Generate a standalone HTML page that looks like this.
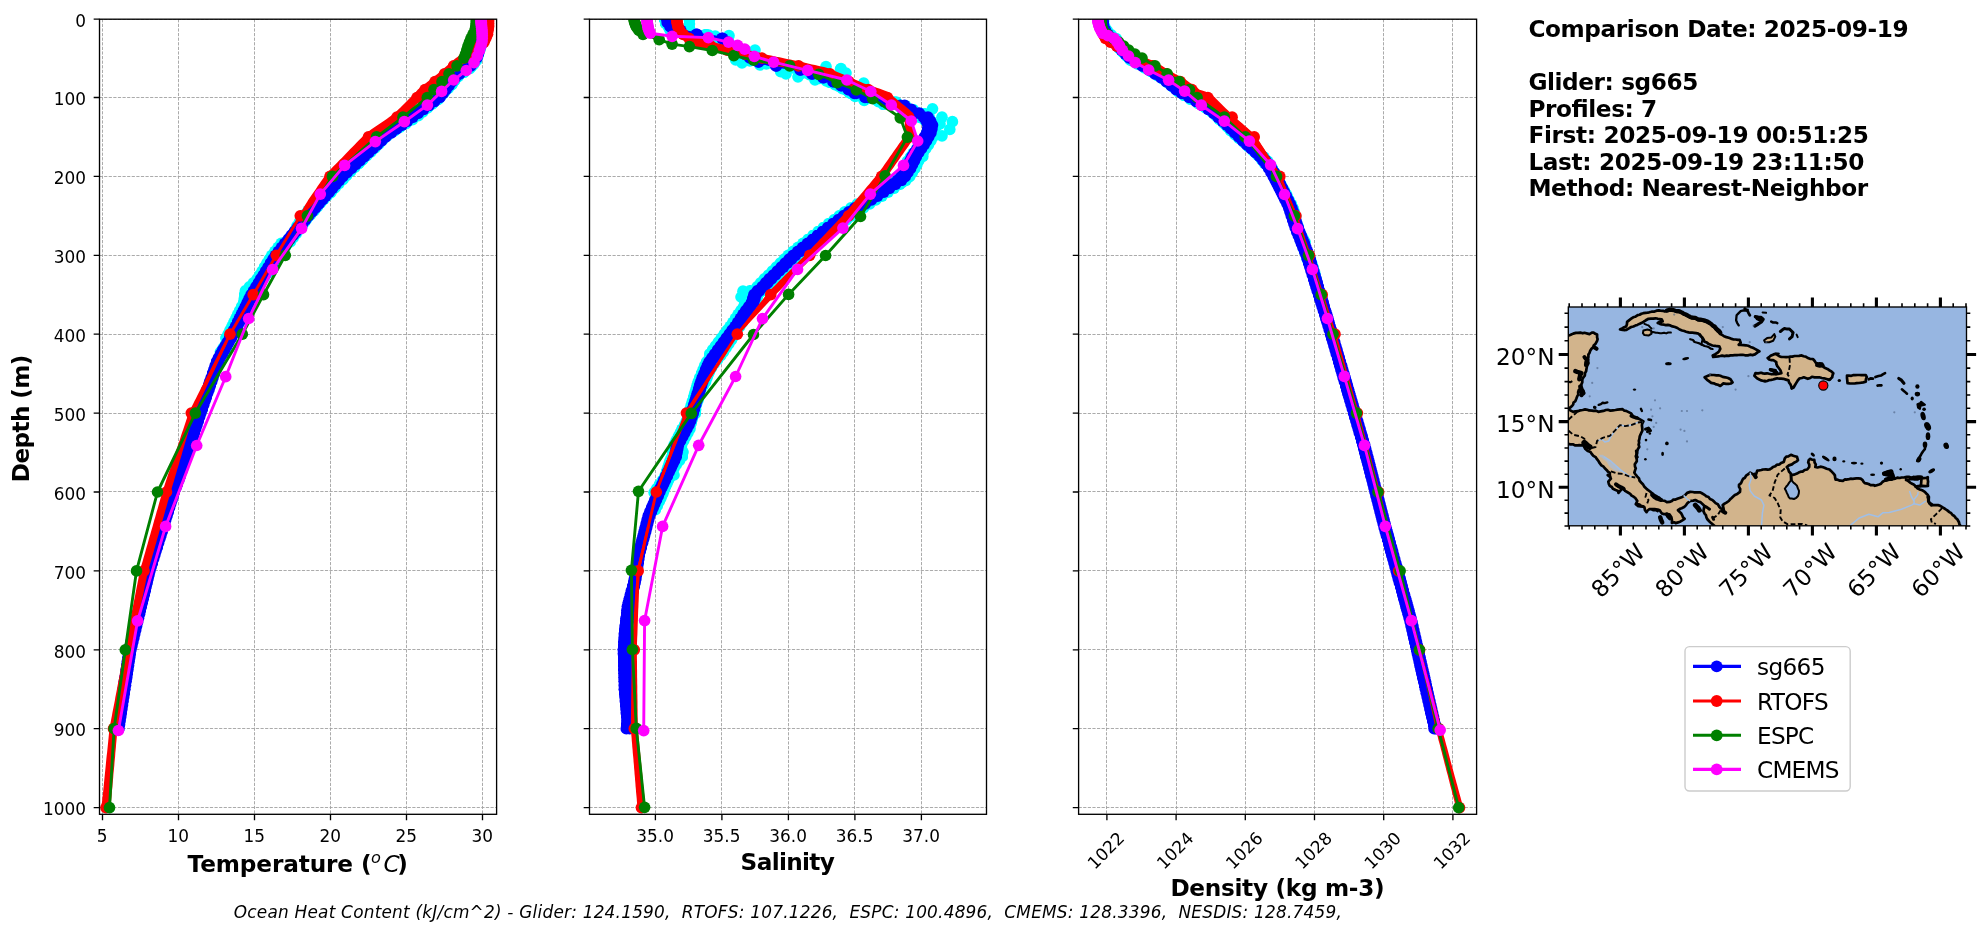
<!DOCTYPE html>
<html lang="en"><head><meta charset="utf-8"><title>Glider / model profile comparison - sg665</title>
<style>html,body{margin:0;padding:0;background:#fff}body{width:1982px;height:934px;overflow:hidden}svg{display:block;will-change:transform}svg text{font-family:"DejaVu Sans","Liberation Sans",sans-serif;fill:#000}</style></head><body>
<svg width="1982" height="934" viewBox="0 0 1982 934">
<rect width="1982" height="934" fill="#fff"/>
<defs>
<clipPath id="c0"><rect x="99.5" y="19.2" width="397.1" height="795.1"/></clipPath>
<clipPath id="c1"><rect x="589.5" y="19.2" width="397" height="795.1"/></clipPath>
<clipPath id="c2"><rect x="1078.6" y="19.2" width="398" height="795.1"/></clipPath>
<marker id="mB" markerWidth="12" markerHeight="12" refX="6" refY="6" markerUnits="userSpaceOnUse"><circle cx="6" cy="6" r="5.83" fill="#0000ff"/></marker>
<marker id="mC" markerWidth="12" markerHeight="12" refX="6" refY="6" markerUnits="userSpaceOnUse"><circle cx="6" cy="6" r="5.83" fill="#00ffff"/></marker>
</defs>
<g id="ax0">
<path d="M102.5 19.2V814.3M178.5 19.2V814.3M254.5 19.2V814.3M330.5 19.2V814.3M406.5 19.2V814.3M482.5 19.2V814.3M99.5 19.5H496.6M99.5 97.5H496.6M99.5 176.5H496.6M99.5 255.5H496.6M99.5 334.5H496.6M99.5 413.5H496.6M99.5 491.5H496.6M99.5 570.5H496.6M99.5 649.5H496.6M99.5 728.5H496.6M99.5 807.5H496.6" stroke="#a2a2a2" stroke-width="0.9" stroke-dasharray="3.2 1.4" fill="none"/>
<g clip-path="url(#c0)">
<polyline points="484.3,19 484.2,22.9 484,26.9 483.9,30.8 483.8,34.8 483,38.7 482.3,42.7 480.4,46.6 478.5,50.5 477.7,54.5 476.9,58.4 474.6,62.4 471.6,66.3 465.7,70.3 459.4,74.2 454.6,78.2 451.4,82.1 448.6,86 445.7,90 442.9,93.9 439.1,97.9 434.2,101.8 429.2,105.8 424.2,109.7 419.3,113.7 413.1,117.6 406.2,121.6 399.3,125.5 392.4,129.4 386.5,133.4 381.2,137.3 377,141.3 372.7,145.2 369.8,149.2 366.9,153.1 364,157.1 361.1,161 356.3,164.9 351.6,168.9 346.9,172.8 342.3,176.8 339.4,180.7 336.6,184.7 333.7,188.6 330.8,192.6 326.3,196.5 321.5,200.5 316.8,204.4 312,208.3 309.1,212.3 306.3,216.2 303.8,220.2 301.3,224.1 298.5,228.1 295.8,232 293.1,236 290.3,239.9 286.4,243.8 282.5,247.8 278.6,251.7 275,255.7 273.8,259.6 272.5,263.6 271.3,267.5 270.1,271.5" fill="none" stroke="#00ffff" stroke-width="2.9" stroke-linejoin="round" marker-start="url(#mC)" marker-mid="url(#mC)" marker-end="url(#mC)"/><polyline points="478.2,20.6 479.4,24.5 480.6,28.5 481.8,32.4 483,36.4 482.8,40.3 481.8,44.3 480.4,48.2 479,52.1 476.6,56.1 473.3,60 469.2,64 463.7,67.9 458.6,71.9 453.4,75.8 450.5,79.8 447.9,83.7 445.6,87.7 443.3,91.6 441,95.5 438.2,99.5 432.5,103.4 426.8,107.4 421.1,111.3 415.4,115.3 410,119.2 404.8,123.2 399.6,127.1 394.4,131 388.1,135 382.5,138.9 377.5,142.9 372.5,146.8 368.9,150.8 365.3,154.7 361.7,158.7 357.6,162.6 352.6,166.6 347.7,170.5 342.8,174.4 338.7,178.4 334.7,182.3 330.8,186.3 326.8,190.2 322.8,194.2 319.9,198.1 317.3,202.1 314.8,206 312.3,209.9 309.7,213.9 307.3,217.8 304.8,221.8 302.2,225.7 299.2,229.7 296.2,233.6 293.2,237.6 289.7,241.5 285.8,245.5 281.9,249.4 278,253.3 274.4,257.3 272,261.2 269.6,265.2 267.2,269.1 264.8,273.1 261.4,277 258,281 254.7,284.9 251.3,288.8 249.1,292.8 247.2,296.7 245.7,300.7 244.2,304.6 243.3,308.6 242.3,312.5 241.3,316.5 240.4,320.4 238.1,324.4 235.7,328.3 233.4,332.2 231.1,336.2 228.4,340.1 225.7,344.1 223.1,348 220.4,352" fill="none" stroke="#00ffff" stroke-width="2.9" stroke-linejoin="round" marker-start="url(#mC)" marker-mid="url(#mC)" marker-end="url(#mC)"/><polyline points="482.4,21.6 482.2,25.5 482,29.5 481.9,33.4 481.7,37.3 481.4,41.3 480.1,45.2 478.6,49.2 477.1,53.1 476.2,57.1 474,61 471.4,65 466.5,68.9 461.4,72.9 457,76.8 454.5,80.7 451.8,84.7 447,88.6 442.3,92.6 436.9,96.5 429.6,100.5 425.6,104.4 421.5,108.4 417.5,112.3 413.5,116.2 408.4,120.2 403,124.1 397.6,128.1 392.2,132 387.1,136 382.8,139.9 379,143.9 375.1,147.8 371,151.8 366.8,155.7 362.6,159.6 358.4,163.6 354.4,167.5 350.4,171.5 346.5,175.4 343,179.4 339.1,183.3 335.2,187.3 331.3,191.2 327.4,195.1 324,199.1 320.6,203 317.3,207 313.9,210.9 310.3,214.9 306.8,218.8 303.5,222.8 300.2,226.7 296.5,230.7 292.8,234.6 289.1,238.5 285,242.5 282.7,246.4 280.4,250.4 278.2,254.3 276.7,258.3 274.1,262.2 271.5,266.2 268.9,270.1 266.3,274 263.6,278 260.5,281.9 257.5,285.9 254.4,289.8 252.4,293.8 250.6,297.7 248.9,301.7 247.2,305.6 245,309.6 242.8,313.5 240.6,317.4 238.6,321.4" fill="none" stroke="#00ffff" stroke-width="2.9" stroke-linejoin="round" marker-start="url(#mC)" marker-mid="url(#mC)" marker-end="url(#mC)"/><polyline points="480.7,18.9 480.3,22.9 479.9,26.8 479.5,30.7 479.1,34.7 478.6,38.6 478.2,42.6 476.6,46.5 474.9,50.5 473.7,54.4 472.3,58.4 469.6,62.3 467,66.2 462.5,70.2 457.9,74.1 453.7,78.1 451.3,82 447.8,86 444.4,89.9 440.9,93.9 437.5,97.8 432.5,101.8 426.3,105.7 420.2,109.6 414.1,113.6 408.5,117.5 403.7,121.5 399,125.4 394.3,129.4 388.5,133.3 383.1,137.3 378.5,141.2 373.9,145.1 369.5,149.1 365.1,153 360.7,157 356.7,160.9 353.2,164.9 349.6,168.8 346,172.8 342.5,176.7 337.6,180.7 333.2,184.6 328.7,188.5 324.2,192.5 320.9,196.4 318.4,200.4 315.9,204.3 313.4,208.3 310.4,212.2 307.5,216.2 304.2,220.1 301.1,224" fill="none" stroke="#00ffff" stroke-width="2.9" stroke-linejoin="round" marker-start="url(#mC)" marker-mid="url(#mC)" marker-end="url(#mC)"/><polyline points="480.5,21.1 480,25 479.6,29 479.2,32.9 478.7,36.9 479.4,40.8 480,44.7 479.4,48.7 478.8,52.6 477.2,56.6 475.6,60.5 472.2,64.5 468.6,68.4 463,72.4 457.4,76.3 453.3,80.3 450.4,84.2 446.8,88.1 443.3,92.1 439.7,96 435.2,100 430.2,103.9 425.1,107.9 420,111.8 414.9,115.8 408.5,119.7 402.2,123.6 395.9,127.6 389.6,131.5 384.6,135.5 380.1,139.4 376,143.4 372,147.3 368.6,151.3 365.1,155.2 361.7,159.2 358.8,163.1 354.8,167 350.8,171 346.7,174.9 342.9,178.9 338.5,182.8 334,186.8 329.6,190.7 325.1,194.7 322.4,198.6 319.6,202.5 316.9,206.5 314.1,210.4 309.7,214.4 305.5,218.3 301.4,222.3 297.4,226.2 295.2,230.2 292.9,234.1 290.6,238.1 288.8,242 285.7,245.9 282.6,249.9 279.5,253.8 276.6,257.8 273.5,261.7 270.4,265.7 267.3,269.6 264.2,273.6 261.3,277.5 258.8,281.4 256.2,285.4 253.6,289.3 250.9,293.3 248.4,297.2 246,301.2 243.7,305.1 243,309.1 242.2,313 241.5,317 241.1,320.9 238.1,324.8 235.2,328.8 232.2,332.7 229.2,336.7 228.1,340.6 227.1,344.6 226.1,348.5 225.1,352.5" fill="none" stroke="#00ffff" stroke-width="2.9" stroke-linejoin="round" marker-start="url(#mC)" marker-mid="url(#mC)" marker-end="url(#mC)"/><polyline points="479.6,21 479.4,25 479.2,28.9 479,32.9 478.8,36.8 479.5,40.8 479.4,44.7 479,48.6 478.5,52.6 477.7,56.5 476.4,60.5 473.5,64.4 469.8,68.4 464,72.3 458.3,76.3 454.8,80.2 452.1,84.2 448.4,88.1 444.7,92 440.9,96 436.9,99.9 432.3,103.9 427.6,107.8 422.9,111.8 418.3,115.7 412.5,119.7 406,123.6 399.5,127.5 392.9,131.5 386.4,135.4 380.9,139.4 376.7,143.3 372.5,147.3 369.3,151.2 366.1,155.2 362.9,159.1 359,163.1 353.2,167 347.3,170.9 341.5,174.9 336.6,178.8 333.8,182.8 331.1,186.7 328.4,190.7 325.7,194.6 321.2,198.6 316.9,202.5 312.5,206.4 308.2,210.4 304.9,214.3 301.9,218.3 299.4,222.2 296.9,226.2 295.3,230.1 293.8,234.1 292.3,238 290.2,242 285.9,245.9 281.7,249.8 277.4,253.8 273.4,257.7 271.8,261.7 270.2,265.6 268.6,269.6 267.1,273.5 264.4,277.5 261.5,281.4 258.6,285.3 255.7,289.3 253.4,293.2 251.4,297.2" fill="none" stroke="#00ffff" stroke-width="2.9" stroke-linejoin="round" marker-start="url(#mC)" marker-mid="url(#mC)" marker-end="url(#mC)"/><polyline points="281.2,243.4 278.1,247.4 274.9,251.3 271.8,255.3 269.4,259.2 266.9,263.1 264.5,267.1 262.1,271 259.7,275 257.2,278.9 253.5,282.9 249.5,286.8 245.4,290.8 244.6,294.7 244.3,298.7 243.6,302.6 241.7,306.5 239.7,310.5 237.8,314.4 235.9,318.4 233.9,322.3 232,326.3 230,330.2 228.1,334.2 225.9,338.1" fill="none" stroke="#00ffff" stroke-width="2.9" stroke-linejoin="round" marker-start="url(#mC)" marker-mid="url(#mC)" marker-end="url(#mC)"/><polyline points="480.1,18.6 480.1,22.5 480.1,26.4 480.1,30.4 480.1,34.3 480.1,38.3 480.1,42.2 478.8,46.2 477.6,50.1 476.3,54.1 475.1,58 472.1,62 469.1,65.9 463.5,69.8 457.9,73.8 453.4,77.7 450.3,81.7 447.3,85.6 444.2,89.6 441.1,93.5 438.1,97.5 432.7,101.4 427.3,105.4 421.9,109.3 416.5,113.2 411.1,117.2 405.7,121.1 400.3,125.1 394.9,129 389.5,133 384.1,136.9 379.8,140.9 375.5,144.8 371.2,148.7 366.9,152.7 362.6,156.6 358.3,160.6 354,164.5 349.7,168.5 345.4,172.4 341.1,176.4 337.7,180.3 334.2,184.2 330.8,188.2 327.4,192.1 324,196.1 320.6,200 317.1,204 313.7,207.9 310.3,211.9 306.9,215.8 303.7,219.8 300.6,223.7 297.4,227.6 294.3,231.6 291.1,235.5 288,239.5 284.8,243.4 281.7,247.4 278.5,251.3 275.4,255.3 273,259.2 270.5,263.1 268.1,267.1 265.7,271 263.2,275 260.8,278.9 258.4,282.9 255.9,286.8 253.5,290.8 251.1,294.7 249.1,298.7 247.2,302.6 245.3,306.5 243.3,310.5 241.4,314.4 239.4,318.4 237.5,322.3 235.6,326.3 233.6,330.2 231.7,334.2 229.5,338.1 227.3,342.1 225,346 222.8,349.9 220.6,353.9 218.4,357.8 216.5,361.8 215.2,365.7 213.9,369.7 212.5,373.6 211.2,377.6 209.8,381.5 208.5,385.4 207.1,389.4 205.8,393.3 204.5,397.3 203.1,401.2 201.8,405.2 200.4,409.1 199.1,413.1 197.8,417 196.5,421 195.2,424.9 193.9,428.8 192.6,432.8 191.3,436.7 190,440.7 188.7,444.6 187.4,448.6 186.1,452.5 184.8,456.5 183.6,460.4 182.3,464.3 181,468.3 179.7,472.2 178.4,476.2 177.1,480.1 175.6,484.1 174.1,488 172.6,492 171.4,495.9 170.1,499.9 168.9,503.8 167.7,507.7 166.5,511.7 165.2,515.6 164,519.6 162.8,523.5 161.6,527.5 160.3,531.4 159.1,535.4 157.9,539.3 156.7,543.2 155.4,547.2 154.2,551.1 153,555.1 151.8,559 150.5,563 149.3,566.9 148.1,570.9 147.1,574.8 146.2,578.8 145.2,582.7 144.3,586.6 143.3,590.6 142.4,594.5 141.4,598.5 140.5,602.4 139.5,606.4 138.6,610.3 137.6,614.3 136.7,618.2 135.7,622.1 134.8,626.1 133.8,630 132.9,634 131.9,637.9 131,641.9 130,645.8 129.1,649.8 128.5,653.7 127.9,657.6 127.3,661.6 126.7,665.5 126.1,669.5 125.5,673.4 124.9,677.4 124.3,681.3 123.7,685.3 123.1,689.2 122.5,693.2 121.9,697.1 121.3,701 120.7,705 120.1,708.9 119.5,712.9 118.9,716.8 118.3,720.8 117.7,724.7 117.1,728.7" fill="none" stroke="#0000ff" stroke-width="2.9" stroke-linejoin="round" marker-start="url(#mB)" marker-mid="url(#mB)" marker-end="url(#mB)"/><polyline points="481.9,18.6 481.9,22.5 481.9,26.4 481.9,30.4 481.9,34.3 481.9,38.3 481.9,42.2 480.7,46.2 479.4,50.1 478.2,54.1 476.9,58 473.9,62 470.9,65.9 465.3,69.8 459.8,73.8 455.2,77.7 452.1,81.7 449.1,85.6 446,89.6 443,93.5 439.9,97.5 434.5,101.4 429.1,105.4 423.7,109.3 418.3,113.2 412.9,117.2 407.5,121.1 402.1,125.1 396.7,129 391.3,133 385.9,136.9 381.6,140.9 377.3,144.8 373,148.7 368.7,152.7 364.4,156.6 360.1,160.6 355.8,164.5 351.5,168.5 347.2,172.4 342.9,176.4 339.5,180.3 336.1,184.2 332.7,188.2 329.2,192.1 325.8,196.1 322.4,200 319,204 315.6,207.9 312.1,211.9 308.7,215.8 305.6,219.8 302.4,223.7 299.3,227.6 296.1,231.6 293,235.5 289.8,239.5 286.7,243.4 283.5,247.4 280.4,251.3 277.2,255.3 274.8,259.2 272.4,263.1 269.9,267.1 267.5,271 265.1,275 262.6,278.9 260.2,282.9 257.8,286.8 255.3,290.8 252.9,294.7 251,298.7 249,302.6 247.1,306.5 245.2,310.5 243.2,314.4 241.3,318.4 239.3,322.3 237.4,326.3 235.5,330.2 233.5,334.2 231.3,338.1 229.1,342.1 226.9,346 224.7,349.9 222.5,353.9 220.2,357.8 218.4,361.8 217,365.7 215.7,369.7 214.3,373.6 213,377.6 211.7,381.5 210.3,385.4 209,389.4 207.6,393.3 206.3,397.3 204.9,401.2 203.6,405.2 202.3,409.1 200.9,413.1 199.6,417 198.3,421 197,424.9 195.7,428.8 194.4,432.8 193.2,436.7 191.9,440.7 190.6,444.6 189.3,448.6 188,452.5 186.7,456.5 185.4,460.4 184.1,464.3 182.8,468.3 181.5,472.2 180.2,476.2 178.9,480.1 177.4,484.1 175.9,488 174.4,492 173.2,495.9 172,499.9 170.7,503.8 169.5,507.7 168.3,511.7 167.1,515.6 165.8,519.6 164.6,523.5 163.4,527.5 162.2,531.4 160.9,535.4 159.7,539.3 158.5,543.2 157.3,547.2 156,551.1 154.8,555.1 153.6,559 152.4,563 151.1,566.9 149.9,570.9 149,574.8 148,578.8 147.1,582.7 146.1,586.6 145.2,590.6 144.2,594.5 143.3,598.5 142.3,602.4 141.4,606.4 140.4,610.3 139.5,614.3 138.5,618.2 137.6,622.1 136.6,626.1 135.7,630 134.7,634 133.8,637.9 132.8,641.9 131.9,645.8 130.9,649.8 130.3,653.7 129.7,657.6 129.1,661.6 128.5,665.5 127.9,669.5 127.3,673.4 126.7,677.4 126.1,681.3 125.5,685.3 124.9,689.2 124.3,693.2 123.7,697.1 123.1,701 122.5,705 121.9,708.9 121.3,712.9 120.7,716.8 120.1,720.8 119.5,724.7 118.9,728.7" fill="none" stroke="#0000ff" stroke-width="2.9" stroke-linejoin="round" marker-start="url(#mB)" marker-mid="url(#mB)" marker-end="url(#mB)"/><polygon points="484,18.6 484,22.5 484,26.2 483.5,29.8 483.2,33.1 481.6,36.5 480.4,39.6 478,41.5 475,44.1 472.2,46.6 469.6,48.4 466.9,50.4 464.1,52.4 461.5,54.3 458.5,56.2 455.3,58.4 452.3,61 449.7,63.3 447,65.7 444.6,67.8 442.1,70 439.6,72.2 437.1,74.3 434.2,76.6 431.2,78.9 428.2,81.3 425.7,83.3 423.2,85.2 420.7,87.2 417.9,89.5 415.6,92.2 413.7,94.4 411.6,96.4 409.4,98.6 407.2,100.8 405,103 402.7,105.2 400.5,107.4 398.3,109.6 396.1,111.8 394.1,113.7 391.8,115.3 389.3,117.1 386.7,118.9 384.1,120.7 381.5,122.5 378.9,124.2 376.3,126 373.7,127.8 371.1,129.6 368.5,131.4 365.6,133.5 363.1,136 361,138.2 358.9,140.3 356.7,142.5 354.6,144.7 352.4,146.9 350.3,149.1 348.2,151.3 346,153.5 343.9,155.7 341.8,157.9 339.6,160.1 337.5,162.3 335.3,164.5 333.2,166.6 331.1,168.8 328.9,171 326.6,173.4 324.6,176.2 322.9,178.7 321.1,181.3 319.4,183.8 317.6,186.3 315.9,188.9 314.1,191.4 312.3,194 310.6,196.5 308.8,199 307.2,201.7 305.6,204.3 304,207 302.4,209.7 300.8,212.3 299.2,215 298.7,218.4 297.1,221.1 295.5,223.7 293.9,226.3 292.3,229 290.7,231.6 289.1,234.2 287.5,236.9 285.9,239.5 284.3,242.1 282.7,244.7 281.1,247.4 279.5,250 277.9,252.6 276.3,255.3 274.8,257.9 273.2,260.5 271.7,263.2 270.1,265.8 268.6,268.4 267.1,271 265.5,273.7 264,276.3 262.4,278.9 260.9,281.6 259.4,284.2 257.8,286.8 256.3,289.5 254.7,292.1 253.2,294.7 251.7,297.3 250.1,300 248.6,302.6 247,305.2 245.5,307.9 243.9,310.5 242.4,313.1 240.8,315.8 239.3,318.4 237.7,321 236.2,323.6 234.6,326.3 233.1,328.9 231.5,331.5 230,334.2 228.7,336.9 227.3,339.6 224.8,341.7 223.4,344.4 222,347.1 220.6,349.8 219.3,352.5 217.9,355.2 216.5,357.9 215.1,360.6 213.7,363.3 212.3,366 210.9,368.7 209.5,371.4 208.2,374.1 206.8,376.8 205.4,379.5 204.1,382.2 202.7,384.9 201.3,387.6 200,390.3 198.6,393 197.2,395.7 195.9,398.4 194.5,401.1 193.2,403.8 191.8,406.5 190.4,409.3 189,412.1 187.9,415.2 187,418.1 186,421 185,423.9 184.1,426.8 183.1,429.7 182.1,432.6 181.1,435.6 180.2,438.5 179.2,441.4 178.2,444.3 177.3,447.2 176.3,450.1 175.3,453 174.3,455.9 173.4,458.8 172.4,461.7 171.4,464.6 170.5,467.5 169.5,470.4 168.5,473.3 167.5,476.2 166.6,479.1 165.6,482 164.6,484.9 163.7,487.9 162.7,490.8 161.8,493.8 161,496.7 160.2,499.6 159.3,502.6 158.5,505.5 157.7,508.4 156.8,511.3 156,514.2 155.2,517.2 154.3,520.1 153.5,523 152.7,525.9 151.8,528.9 151,531.8 150.2,534.7 149.3,537.6 148.5,540.5 147.7,543.5 146.8,546.4 146,549.3 145.2,552.2 144.3,555.2 143.5,558.1 142.7,561 141.8,563.9 141,566.8 140.1,569.9 139.5,573.1 138.9,576.1 138.3,579.2 137.7,582.2 137.1,585.3 136.5,588.3 135.9,591.3 135.3,594.4 134.7,597.4 134.1,600.4 133.5,603.5 132.9,606.5 132.3,609.6 131.7,612.6 131.1,615.6 130.5,618.7 129.9,621.7 129.3,624.8 128.7,627.8 128.1,630.8 127.6,633.9 127,636.9 126.4,639.9 125.8,643 125.2,646 124.6,649.1 124,652.2 123.4,655.2 122.8,658.2 122.3,661.3 121.7,664.3 121.1,667.3 120.5,670.3 119.9,673.4 119.4,676.4 118.8,679.4 118.2,682.5 117.6,685.5 117.1,688.5 116.5,691.6 115.9,694.6 115.3,697.6 114.8,700.7 114.2,703.7 113.6,706.7 113,709.8 112.4,712.8 111.9,715.8 111.3,718.8 110.7,721.9 110.1,724.9 109.5,728.1 109.2,731.3 108.9,734.3 108.6,737.4 108.3,740.4 108,743.4 107.7,746.5 107.4,749.5 107.1,752.5 106.7,755.6 106.4,758.6 106.1,761.6 105.8,764.7 105.5,767.7 105.2,770.7 104.9,773.8 104.6,776.8 104.3,779.8 104,782.9 103.7,785.9 103.4,788.9 103.1,792 102.8,795 102.4,798 102.1,801.1 101.8,804.1 101.5,807.1 110.5,808 110.7,804.9 111,801.9 111.3,798.9 111.6,795.8 111.8,792.8 112.1,789.8 112.4,786.7 112.6,783.7 112.9,780.7 113.2,777.6 113.4,774.6 113.7,771.5 114,768.5 114.3,765.5 114.5,762.4 114.8,759.4 115.1,756.4 115.3,753.3 115.6,750.3 115.9,747.3 116.1,744.2 116.4,741.2 116.7,738.1 116.9,735.1 117.2,732.1 117.5,729.2 118,726.3 118.5,723.3 119.1,720.3 119.6,717.2 120.1,714.2 120.7,711.2 121.2,708.1 121.7,705.1 122.3,702 122.8,699 123.4,696 123.9,692.9 124.4,689.9 125,686.8 125.5,683.8 126.1,680.8 126.6,677.7 127.1,674.7 127.7,671.7 128.2,668.6 128.7,665.6 129.3,662.5 129.8,659.5 130.4,656.5 130.9,653.4 131.4,650.4 132.1,647.4 132.7,644.4 133.3,641.4 134,638.3 134.6,635.3 135.2,632.3 135.9,629.2 136.5,626.2 137.1,623.2 137.8,620.1 138.4,617.1 139,614.1 139.7,611.1 140.3,608 140.9,605 141.6,602 142.2,598.9 142.8,595.9 143.5,592.9 144.1,589.8 144.7,586.8 145.4,583.8 146,580.7 146.7,577.7 147.3,574.7 147.9,571.8 148.7,569 149.5,566.1 150.3,563.2 151.2,560.3 152,557.3 152.8,554.4 153.7,551.5 154.5,548.6 155.3,545.7 156.2,542.7 157,539.8 157.8,536.9 158.7,534 159.5,531 160.3,528.1 161.2,525.2 162,522.3 162.8,519.4 163.7,516.4 164.5,513.5 165.3,510.6 166.2,507.7 167,504.7 167.8,501.8 168.7,498.9 169.5,496 170.3,493.1 171.2,490.2 172,487.3 172.9,484.3 173.8,481.4 174.6,478.5 175.5,475.5 176.4,472.6 177.2,469.6 178.1,466.7 179,463.8 179.8,460.8 180.7,457.9 181.6,455 182.4,452 183.3,449.1 184.2,446.1 185,443.2 185.9,440.3 186.8,437.3 187.6,434.4 188.5,431.4 189.4,428.5 190.2,425.6 191.1,422.6 192,419.7 192.8,416.7 193.6,414 194.8,411.4 196.2,408.7 197.5,406 198.8,403.2 200.1,400.5 201.4,397.7 202.7,395 204,392.3 205.3,389.5 206.6,386.8 207.9,384.1 209.2,381.3 210.5,378.6 211.8,375.9 213.1,373.1 214.4,370.4 215.7,367.6 216.9,364.9 218.2,362.1 219.5,359.4 220.8,356.6 222.1,353.9 223.3,351.1 224.6,348.4 225.9,345.7 227.2,342.9 227.3,339.6 228.7,336.9 230,334.2 231.5,331.5 233.1,328.9 234.6,326.3 236.2,323.6 237.7,321 239.3,318.4 240.8,315.8 242.4,313.1 243.9,310.5 245.5,307.9 247,305.2 248.6,302.6 250.1,300 251.7,297.3 253.2,294.7 254.7,292.1 256.3,289.5 257.8,286.8 259.4,284.2 260.9,281.6 262.4,278.9 264,276.3 265.5,273.7 267.1,271 268.6,268.4 270.1,265.8 271.7,263.2 273.2,260.5 274.8,257.9 276.3,255.3 277.9,252.6 279.5,250 281.1,247.4 282.7,244.7 284.3,242.1 285.9,239.5 287.5,236.9 289.1,234.2 290.7,231.6 292.3,229 293.9,226.3 295.5,223.7 297.1,221.1 298.7,218.4 301.4,216.6 303.5,214.4 305.6,212.1 307.7,209.8 309.9,207.6 312,205.3 314.1,203 316,200.6 318,198.2 319.9,195.8 321.9,193.4 323.8,191 325.8,188.6 327.7,186.2 329.7,183.9 331.6,181.5 333.4,179.3 335.4,177.3 337.5,175.1 339.6,172.9 341.8,170.7 343.9,168.5 346.1,166.4 348.2,164.2 350.3,162 352.5,159.8 354.6,157.6 356.7,155.4 358.9,153.2 361,151 363.2,148.8 365.3,146.6 367.4,144.4 369.6,142.2 371.4,140.4 373.7,138.8 376.2,137 378.8,135.2 381.4,133.4 384,131.6 386.6,129.9 389.2,128.1 391.8,126.3 394.4,124.5 397,122.7 399.9,120.7 402.4,118.2 404.6,116 406.8,113.8 409,111.6 411.3,109.4 413.5,107.2 415.7,105 417.9,102.9 420.3,100.5 422.4,98 424.1,96 426.3,94.3 428.8,92.3 431.3,90.3 433.8,88.4 436.8,86 439.8,83.6 442.9,81.2 445.4,79 447.9,76.8 450.4,74.6 453,72.4 455.7,70.1 458.3,67.7 460.7,65.5 463.5,63.7 466.5,61.7 469.4,59.7 472.1,57.7 474.9,55.7 477.8,53.6 481,50.9 484,48.2 487.6,44.9 489.9,40.1 491.8,35.6 492.5,31 493,26.7 493,22.5 493,18.6" fill="#ff0000"/><polyline points="488.5,18.6 488.5,26.4 487.5,34.3 484,42.2 475,50.1 464,58 458,62 450,69.1 440,77.7 431,84.8 421,92.7 417,97.5 397,117.2 368.5,136.9 330,176.4 300.3,215.8 276.3,255.3 253.2,294.7 230,334.2 191.3,413.1 166.5,492 144,570.9 128,649.8 113.5,728.7 106,807.6" fill="none" stroke="#ff0000" stroke-width="2.9" stroke-linejoin="round" stroke-linecap="round" /><g fill="#ff0000"><circle cx="488.5" cy="18.6" r="5.83"/><circle cx="488.5" cy="20.1" r="5.83"/><circle cx="488.5" cy="21.7" r="5.83"/><circle cx="488.5" cy="23.3" r="5.83"/><circle cx="488.5" cy="24.9" r="5.83"/><circle cx="488.5" cy="26.4" r="5.83"/><circle cx="488.3" cy="28" r="5.83"/><circle cx="488" cy="30.4" r="5.83"/><circle cx="487.5" cy="34.3" r="5.83"/><circle cx="485.8" cy="38.3" r="5.83"/><circle cx="484" cy="42.2" r="5.83"/><circle cx="479.5" cy="46.2" r="5.83"/><circle cx="475" cy="50.1" r="5.83"/><circle cx="469.5" cy="54.1" r="5.83"/><circle cx="464" cy="58" r="5.83"/><circle cx="453.6" cy="65.9" r="5.83"/><circle cx="444.5" cy="73.8" r="5.83"/><circle cx="435" cy="81.7" r="5.83"/><circle cx="425" cy="89.6" r="5.83"/><circle cx="417" cy="97.5" r="5.83"/><circle cx="397" cy="117.2" r="5.83"/><circle cx="368.5" cy="136.9" r="5.83"/><circle cx="330" cy="176.4" r="5.83"/><circle cx="300.3" cy="215.8" r="5.83"/><circle cx="276.3" cy="255.3" r="5.83"/><circle cx="253.2" cy="294.7" r="5.83"/><circle cx="230" cy="334.2" r="5.83"/><circle cx="191.3" cy="413.1" r="5.83"/><circle cx="166.5" cy="492" r="5.83"/><circle cx="144" cy="570.9" r="5.83"/><circle cx="128" cy="649.8" r="5.83"/><circle cx="113.5" cy="728.7" r="5.83"/><circle cx="106" cy="807.6" r="5.83"/></g><polyline points="476.4,18.6 476.4,20.1 476.4,21.7 476.3,23.3 476.2,24.9 476,26.4 475.6,28 475,30.4 473,34.3 471,38.3 469.5,42.2 468,46.2 466.8,50.1 465.5,54.1 464,58 457,65.9 449,73.8 442,81.7 434,89.6 427.3,97.5 403,117.2 376.6,136.9 332.5,176.4 307.4,215.8 285.3,255.3 263.5,294.7 242.3,334.2 195.4,413.1 157.5,492 136.5,570.9 125.3,649.8 114.1,728.7 109.5,807.6" fill="none" stroke="#008000" stroke-width="2.9" stroke-linejoin="round" stroke-linecap="round" /><g fill="#008000"><circle cx="476.4" cy="18.6" r="5.83"/><circle cx="476.4" cy="20.1" r="5.83"/><circle cx="476.4" cy="21.7" r="5.83"/><circle cx="476.3" cy="23.3" r="5.83"/><circle cx="476.2" cy="24.9" r="5.83"/><circle cx="476" cy="26.4" r="5.83"/><circle cx="475.6" cy="28" r="5.83"/><circle cx="475" cy="30.4" r="5.83"/><circle cx="473" cy="34.3" r="5.83"/><circle cx="471" cy="38.3" r="5.83"/><circle cx="469.5" cy="42.2" r="5.83"/><circle cx="468" cy="46.2" r="5.83"/><circle cx="466.8" cy="50.1" r="5.83"/><circle cx="465.5" cy="54.1" r="5.83"/><circle cx="464" cy="58" r="5.83"/><circle cx="457" cy="65.9" r="5.83"/><circle cx="449" cy="73.8" r="5.83"/><circle cx="442" cy="81.7" r="5.83"/><circle cx="434" cy="89.6" r="5.83"/><circle cx="427.3" cy="97.5" r="5.83"/><circle cx="403" cy="117.2" r="5.83"/><circle cx="376.6" cy="136.9" r="5.83"/><circle cx="332.5" cy="176.4" r="5.83"/><circle cx="307.4" cy="215.8" r="5.83"/><circle cx="285.3" cy="255.3" r="5.83"/><circle cx="263.5" cy="294.7" r="5.83"/><circle cx="242.3" cy="334.2" r="5.83"/><circle cx="195.4" cy="413.1" r="5.83"/><circle cx="157.5" cy="492" r="5.83"/><circle cx="136.5" cy="570.9" r="5.83"/><circle cx="125.3" cy="649.8" r="5.83"/><circle cx="114.1" cy="728.7" r="5.83"/><circle cx="109.5" cy="807.6" r="5.83"/></g><polyline points="481.2,18.9 481.2,19.8 481.2,20.7 481.2,21.6 481.3,22.6 481.3,23.6 481.4,24.8 481.5,26.1 481.6,27.6 481.8,29.2 482,31 482.1,33.2 482.2,35.6 482.2,38.4 482,41.8 481,45.7 479.5,50.4 477.3,56 474,62.6 466.3,70.5 453.7,80 441.6,91.4 427.4,105.1 404.3,121.7 375.3,141.6 344.6,165.4 320.3,194.1 301.6,228.4 272.6,269.5 248.7,318.5 225.7,376.7 196.7,445.5 165.6,526.4 137.6,620.8 118.4,730.5" fill="none" stroke="#ff00ff" stroke-width="2.9" stroke-linejoin="round" stroke-linecap="round" /><g fill="#ff00ff"><circle cx="481.2" cy="18.9" r="5.83"/><circle cx="481.2" cy="19.8" r="5.83"/><circle cx="481.2" cy="20.7" r="5.83"/><circle cx="481.2" cy="21.6" r="5.83"/><circle cx="481.3" cy="22.6" r="5.83"/><circle cx="481.3" cy="23.6" r="5.83"/><circle cx="481.4" cy="24.8" r="5.83"/><circle cx="481.5" cy="26.1" r="5.83"/><circle cx="481.6" cy="27.6" r="5.83"/><circle cx="481.8" cy="29.2" r="5.83"/><circle cx="482" cy="31" r="5.83"/><circle cx="482.1" cy="33.2" r="5.83"/><circle cx="482.2" cy="35.6" r="5.83"/><circle cx="482.2" cy="38.4" r="5.83"/><circle cx="482" cy="41.8" r="5.83"/><circle cx="481" cy="45.7" r="5.83"/><circle cx="479.5" cy="50.4" r="5.83"/><circle cx="477.3" cy="56" r="5.83"/><circle cx="474" cy="62.6" r="5.83"/><circle cx="466.3" cy="70.5" r="5.83"/><circle cx="453.7" cy="80" r="5.83"/><circle cx="441.6" cy="91.4" r="5.83"/><circle cx="427.4" cy="105.1" r="5.83"/><circle cx="404.3" cy="121.7" r="5.83"/><circle cx="375.3" cy="141.6" r="5.83"/><circle cx="344.6" cy="165.4" r="5.83"/><circle cx="320.3" cy="194.1" r="5.83"/><circle cx="301.6" cy="228.4" r="5.83"/><circle cx="272.6" cy="269.5" r="5.83"/><circle cx="248.7" cy="318.5" r="5.83"/><circle cx="225.7" cy="376.7" r="5.83"/><circle cx="196.7" cy="445.5" r="5.83"/><circle cx="165.6" cy="526.4" r="5.83"/><circle cx="137.6" cy="620.8" r="5.83"/><circle cx="118.4" cy="730.5" r="5.83"/></g>
</g>
<path d="M102.5 814.3v5.83M178.5 814.3v5.83M254.5 814.3v5.83M330.5 814.3v5.83M406.5 814.3v5.83M482.5 814.3v5.83M99.5 19.2h-5.83M99.5 97.5h-5.83M99.5 176.4h-5.83M99.5 255.3h-5.83M99.5 334.2h-5.83M99.5 413.1h-5.83M99.5 492h-5.83M99.5 570.9h-5.83M99.5 649.8h-5.83M99.5 728.7h-5.83M99.5 807.6h-5.83" stroke="#000" stroke-width="1.33" fill="none"/><rect x="99.5" y="19.2" width="397.1" height="795.1" fill="none" stroke="#000" stroke-width="1.33"/><text x="102.2" y="841.7" font-size="16.9" text-anchor="middle" fill="#000" >5</text><text x="178.2" y="841.7" font-size="16.9" text-anchor="middle" fill="#000" >10</text><text x="254.2" y="841.7" font-size="16.9" text-anchor="middle" fill="#000" >15</text><text x="330.2" y="841.7" font-size="16.9" text-anchor="middle" fill="#000" >20</text><text x="406.2" y="841.7" font-size="16.9" text-anchor="middle" fill="#000" >25</text><text x="482.2" y="841.7" font-size="16.9" text-anchor="middle" fill="#000" >30</text><text x="86.1" y="26.9" font-size="16.9" text-anchor="end" fill="#000" >0</text><text x="86.1" y="105.2" font-size="16.9" text-anchor="end" fill="#000" >100</text><text x="86.1" y="184.1" font-size="16.9" text-anchor="end" fill="#000" >200</text><text x="86.1" y="263" font-size="16.9" text-anchor="end" fill="#000" >300</text><text x="86.1" y="341.9" font-size="16.9" text-anchor="end" fill="#000" >400</text><text x="86.1" y="420.8" font-size="16.9" text-anchor="end" fill="#000" >500</text><text x="86.1" y="499.7" font-size="16.9" text-anchor="end" fill="#000" >600</text><text x="86.1" y="578.6" font-size="16.9" text-anchor="end" fill="#000" >700</text><text x="86.1" y="657.5" font-size="16.9" text-anchor="end" fill="#000" >800</text><text x="86.1" y="736.4" font-size="16.9" text-anchor="end" fill="#000" >900</text><text x="86.1" y="815.3" font-size="16.9" text-anchor="end" fill="#000" >1000</text>
</g>
<g id="ax1">
<path d="M655.5 19.2V814.3M721.5 19.2V814.3M788.5 19.2V814.3M854.5 19.2V814.3M921.5 19.2V814.3M589.5 19.5H986.5M589.5 97.5H986.5M589.5 176.5H986.5M589.5 255.5H986.5M589.5 334.5H986.5M589.5 413.5H986.5M589.5 491.5H986.5M589.5 570.5H986.5M589.5 649.5H986.5M589.5 728.5H986.5M589.5 807.5H986.5" stroke="#a2a2a2" stroke-width="0.9" stroke-dasharray="3.2 1.4" fill="none"/>
<g clip-path="url(#c1)">
<polyline points="670.1,21.6 670.6,25.5 676.1,29.5 684.7,33.4 697.1,37.4 716.6,41.3 723.6,45.2 726.8,49.2 735,53.1 743.2,57.1 749.9,61 759.9,65 780.7,68.9 803.2,72.9 814.8,76.8 826.3,80.8 835,84.7 842.4,88.6 849.3,92.6 855.2,96.5 864.2,100.5 883.4,104.4 901.5,108.4 907.9,112.3 916,116.3 924.8,120.2 927.8,124.1 929.9,128.1 929.7,132 928.6,136 926.4,139.9 923.8,143.9 920.9,147.8 917.8,151.8 914.7,155.7 912.5,159.7 911,163.6 908.8,167.5 906.5,171.5 903.8,175.4 901.2,179.4 898.7,183.3 893.1,187.3 887.6,191.2 882,195.2 875.8,199.1 867.8,203 859.9,207 851.9,210.9 845.1,214.9 838.8,218.8 835.1,222.8 831.3,226.7 827.5,230.7 823.7,234.6 820.1,238.6 815.5,242.5 810.4,246.4 805.3,250.4 800.3,254.3 795.5,258.3 790.5,262.2 785.6,266.2 780.7,270.1 775.7,274.1 771.2,278 767.4,281.9 763.7,285.9 759.6,289.8 754.3,293.8 752.9,297.7 751.4,301.7 749.1,305.6 745.8,309.6 742.4,313.5 739.4,317.5 736.9,321.4 734.7,325.3 732.2,329.3 729.7,333.2 727.2,337.2 724.5,341.1 721.8,345.1 719.1,349 716.5,353 713,356.9 710.3,360.8 707.8,364.8 706.2,368.7 704.8,372.7 703.4,376.6 701.6,380.6 700.1,384.5 699.5,388.5 698.8,392.4 698.2,396.4 698,400.3 696.5,404.2 694.9,408.2 693.4,412.1 691.9,416.1 690.7,420 689.6,424 688,427.9 686,431.9 683.4,435.8 680.5,439.7 677.6,443.7 675.3,447.6 674,451.6 672.8,455.5 671.3,459.5 669.2,463.4 667.9,467.4 666.6,471.3 665.3,475.3 664.2,479.2 662.3,483.1 660.4,487.1 658.5,491 656.6,495 655.3,498.9 654,502.9 652.8,506.8 651.6,510.8" fill="none" stroke="#00ffff" stroke-width="2.9" stroke-linejoin="round" marker-start="url(#mC)" marker-mid="url(#mC)" marker-end="url(#mC)"/><polyline points="671.1,19.1 672,23 676.6,27 684.8,30.9 696.5,34.9 717.5,38.8 728.9,42.8 735.3,46.7 745.9,50.6 752.1,54.6 762.1,58.5 776.7,62.5 798.5,66.4 809.6,70.4 820.1,74.3 830.8,78.3 839.4,82.2 846.1,86.1 852.1,90.1 857.4,94 865.2,98 888.2,101.9 905.8,105.9 913.5,109.8 924.8,113.8 929.3,117.7 931.6,121.7 931,125.6 930.2,129.5 928.1,133.5 926,137.4 924.5,141.4 922.7,145.3 920.5,149.3 918.4,153.2 916.4,157.2 914.1,161.1 911.5,165 908.6,169 905.1,172.9 901.6,176.9 896.5,180.8 891,184.8 885.6,188.7 880,192.7 875,196.6 867.8,200.6 860.6,204.5 853.4,208.4 847.1,212.4 841.1,216.3 837,220.3 833,224.2 827.8,228.2 822.6,232.1 817.8,236.1 812.1,240 806,243.9 799.9,247.9 793.8,251.8 788.8,255.8 786.6,259.7 784.5,263.7 782.3,267.6 780.2,271.6 776.7,275.5 771.9,279.5 767.3,283.4 762.1,287.3 757.8,291.3 756.6,295.2 756.1,299.2 754.7,303.1 751.6,307.1 748.5,311 745.4,315 740.9,318.9 738.3,322.8 735.2,326.8 732.1,330.7 729,334.7 725.8,338.6 722.6,342.6 719.4,346.5 716.3,350.5" fill="none" stroke="#00ffff" stroke-width="2.9" stroke-linejoin="round" marker-start="url(#mC)" marker-mid="url(#mC)" marker-end="url(#mC)"/><polyline points="666.7,19.1 666.8,23.1 668.7,27 678.2,31 695.3,34.9 720.1,38.9 724.7,42.8 729.6,46.8 737.6,50.7 745.7,54.6 755.4,58.6 766.7,62.5 790.1,66.5 803.4,70.4 811.5,74.4 819.3,78.3 829.8,82.3 838.8,86.2 846.6,90.1 854.8,94.1 872.5,98 896.2,102 903.4,105.9 911.1,109.9 921.6,113.8 925.8,117.8 928.8,121.7 928.8,125.7 928.6,129.6 926.5,133.5 924.5,137.5 922.5,141.4 920.1,145.4 916.6,149.3 913.1,153.3 910.4,157.2 907.5,161.2 905.9,165.1 903.7,169 901.4,173 899,176.9 893.8,180.9 888.5,184.8 883.3,188.8 878,192.7 873.7,196.7 867.9,200.6 862.1,204.6 856.2,208.5 850.3,212.4 845,216.4 841,220.3 837.1,224.3 832.6,228.2 828.1,232.2 823.7,236.1 818.4,240.1 813.6,244 808.8,247.9 804,251.9 799.2,255.8 794.4,259.8 790.3,263.7 786.2,267.7 782.1,271.6 778.3,275.6 773.4,279.5 768.7,283.5 764.3,287.4 758.2,291.3 754.8,295.3 753.5,299.2 751.8,303.2 748.7,307.1 745.7,311.1 742.7,315 739.6,319 736.5,322.9 733.1,326.8 729.5,330.8 726,334.7 724.1,338.7 722.1,342.6 720.2,346.6 718.4,350.5 715.4,354.5 712.1,358.4 708.8,362.4 706.2,366.3 704.2,370.2 702.3,374.2 700.4,378.1 698.5,382.1 697.9,386 697.3,390 696.7,393.9 696,397.9 695.4,401.8 694.8,405.7 694.2,409.7 693.6,413.6 691.1,417.6 688.6,421.5 685.4,425.5 681.9,429.4 680.2,433.4 678.9,437.3 677.6,441.3 676.7,445.2 675.7,449.1 674.7,453.1 673.6,457 671.7,461 670.1,464.9 668.6,468.9 667,472.8 665,476.8 662.3,480.7 659.5,484.6 656.8,488.6 654.1,492.5" fill="none" stroke="#00ffff" stroke-width="2.9" stroke-linejoin="round" marker-start="url(#mC)" marker-mid="url(#mC)" marker-end="url(#mC)"/><polyline points="664.5,19.3 665.5,23.3 670.4,27.2 684.4,31.2 708.7,35.1 723.8,39 727.2,43 733.1,46.9 740.2,50.9 745.8,54.8 751.9,58.8 760.4,62.7 778.3,66.7 799,70.6 809.5,74.6 819.5,78.5 832,82.4 840.7,86.4 848.9,90.3 856.3,94.3 870.5,98.2 894,102.2 904.9,106.1 912.2,110.1 922.8,114 927.2,117.9 929.7,121.9 930.5,125.8 930.5,129.8 929.3,133.7 926.9,137.7 923.6,141.6 920.1,145.6 917.9,149.5 915.6,153.5 914.3,157.4 913.1,161.3 911,165.3 908.2,169.2 905.3,173.2 900.4,177.1 895.5,181.1 890.6,185 885.7,189 880.7,192.9 875.6,196.8 867.7,200.8 859.8,204.7 852,208.7 845.3,212.6 839,216.6 834.2,220.5 829.3,224.5 824.5,228.4 819.7,232.4 815.2,236.3 811.3,240.2 806.5,244.2 801.7,248.1 796.9,252.1 792.1,256 788.4,260 784.8,263.9 781.1,267.9 777.4,271.8 773.4,275.7 768.7,279.7 764.4,283.6 759.3,287.6 754.5,291.5 752.5,295.5" fill="none" stroke="#00ffff" stroke-width="2.9" stroke-linejoin="round" marker-start="url(#mC)" marker-mid="url(#mC)" marker-end="url(#mC)"/><polyline points="666.4,20.4 668.6,24.4 676.5,28.3 691.2,32.3 715.2,36.2 726.3,40.1 729.6,44.1 735.2,48 742.1,52 748.6,55.9 754.9,59.9 766.4,63.8 792.9,67.8 809.4,71.7 820.3,75.6 831.1,79.6 837.3,83.5 845.9,87.5 852.8,91.4 860.9,95.4 876,99.3 894.8,103.3 905.2,107.2 910.3,111.2 917,115.1 925.9,119 928.9,123 931.9,126.9 932,130.9 931.2,134.8 929.1,138.8 926.4,142.7 923.6,146.7 920.7,150.6 917.8,154.5 915.3,158.5 913.7,162.4 912.4,166.4 911,170.3 909.1,174.3 907.1,178.2 902.4,182.2 894.4,186.1 886.4,190.1 878.3,194 870.1,197.9 864.1,201.9 858.1,205.8 852.1,209.8 846.9,213.7 842.1,217.7 838,221.6 833.8,225.6 829.7,229.5 825.5,233.4 821.3,237.4 814.7,241.3 809.4,245.3 804.1,249.2 798.8,253.2 794.5,257.1 790.6,261.1 786.7,265 782.8,269 778.9,272.9 775.7,276.8 771.9,280.8 768.3,284.7 764,288.7 759.1,292.6 757.4,296.6 755.8,300.5 752.6,304.5 748.7,308.4 744.9,312.3 741.3,316.3 738.5,320.2 737.6,324.2 736.4,328.1 735.3,332.1 734.1,336 731.5,340 728.8,343.9 726.1,347.9 723.5,351.8 720.7,355.7 717.5,359.7 714.2,363.6 711.6,367.6 709.5,371.5 707.3,375.5 705,379.4 703,383.4 701.4,387.3 699.8,391.2 698.1,395.2 696.8,399.1 695.8,403.1 694.9,407 693.9,411 692.9,414.9 692.2,418.9 691.2,422.8 689.6,426.8 687.9,430.7 685,434.6 682.5,438.6 679.9,442.5 677.8,446.5 677.5,450.4 677.2,454.4 676.8,458.3 675.6,462.3 673.8,466.2 671.9,470.1 670,474.1 668,478 666.7,482 665.4,485.9 664.1,489.9 662.8,493.8 661,497.8 659.1,501.7 657.3,505.7 655.4,509.6" fill="none" stroke="#00ffff" stroke-width="2.9" stroke-linejoin="round" marker-start="url(#mC)" marker-mid="url(#mC)" marker-end="url(#mC)"/><polyline points="668,18.9 668.7,22.8 671.2,26.8 683,30.7 705.8,34.6 726.2,38.6 728.9,42.5 731.9,46.5 738.1,50.4 745,54.4 750.4,58.3 759.5,62.3 777.7,66.2 803.2,70.1 815.1,74.1 826.6,78 834.6,82 842.2,85.9 849.5,89.9 855.4,93.8 863.1,97.8 878.5,101.7 898.5,105.7 905.6,109.6 911,113.5 919.8,117.5 928.6,121.4 932.4,125.4 933.9,129.3 932.9,133.3 930.3,137.2 927.2,141.2 923.9,145.1 920.4,149 916.8,153 914.2,156.9 912.3,160.9 910,164.8 907.4,168.8 904.6,172.7 901.7,176.7 898.8,180.6 893.8,184.6 888.8,188.5 883.9,192.4 877.7,196.4 871.3,200.3 864.9,204.3 858.5,208.2 853.5,212.2 848.8,216.1 843.8,220.1 838.9,224 833.6,227.9 828.2,231.9 822.9,235.8 818.7,239.8 813,243.7 807.3,247.7 801.6,251.6 795.9,255.6 790.8,259.5 786.2,263.5 781.6,267.4 777,271.3 771.8,275.3 769.3,279.2 766.8,283.2 764.3,287.1 761.4,291.1 757.8,295 755.1,299 753.7,302.9 752.3,306.8 749.5,310.8 746.8,314.7 744.6,318.7 742.2,322.6 739.7,326.6 737,330.5 734.3,334.5 731.3,338.4 728.3,342.4 725.3,346.3 722.4,350.2 719.6,354.2 716.4,358.1 713.2,362.1 710.1,366 709.2,370 708.3,373.9 706.9,377.9 705.6,381.8 703.2,385.7 700.7,389.7 698.2,393.6 696.4,397.6 696.1,401.5 695.8,405.5 695.6,409.4 695.3,413.4" fill="none" stroke="#00ffff" stroke-width="2.9" stroke-linejoin="round" marker-start="url(#mC)" marker-mid="url(#mC)" marker-end="url(#mC)"/><polyline points="893.4,180.3 887.5,184.2 881.6,188.2 875.6,192.1 869.5,196.1 863.3,200 857.2,204 851,207.9 844.8,211.9 839.4,215.8 834.1,219.8 828.7,223.7 823.4,227.6 818.1,231.6 812.9,235.5 807.9,239.5 803,243.4 798,247.4 793.1,251.3 788.2,255.3 784.3,259.2 780.3,263.1 776.3,267.1 772.3,271 768.4,275 764.4,278.9 760.7,282.9 757.1,286.8 750.1,290.8 744.4,294.7 743.7,298.7 744.8,302.6 743.8,306.5 740.9,310.5 738.1,314.4 735.5,318.4 732.9,322.3 730.1,326.3 727.2,330.2 724.2,334.2 721.3,338.1 718.3,342.1 715.4,346 712.6,349.9 709.8,353.9" fill="none" stroke="#00ffff" stroke-width="2.9" stroke-linejoin="round" marker-start="url(#mC)" marker-mid="url(#mC)" marker-end="url(#mC)"/><polyline points="933,136.9 930.8,140.9 928.4,144.8 925.7,148.7 923.1,152.7 920.7,156.6 918.8,160.6 916.9,164.5 914.9,168.5 912.3,172.4 909.7,176.4 905.9,180.3 900,184.2 894.1,188.2 888.1,192.1 882,196.1 875.8,200 869.7,204 863.5,207.9 857.3,211.9 851.9,215.8 846.6,219.8 841.2,223.7 835.9,227.6 830.6,231.6 825.4,235.5" fill="none" stroke="#00ffff" stroke-width="2.9" stroke-linejoin="round" marker-start="url(#mC)" marker-mid="url(#mC)" marker-end="url(#mC)"/><polyline points="712.3,353.9 709.4,357.8 706.6,361.8 704.8,365.7 703.1,369.7 701.5,373.6 699.8,377.6 698.3,381.5 697.1,385.4 696,389.4 694.8,393.3 693.6,397.3 692.4,401.2 691.2,405.2 690,409.1 688.8,413.1 687.5,417 686.3,421 684.6,424.9 682.5,428.8 680.4,432.8 678.3,436.7 676.2,440.7 674.2,444.6 673.5,448.6 672.7,452.5 671.9,456.5 670.2,460.4" fill="none" stroke="#00ffff" stroke-width="2.9" stroke-linejoin="round" marker-start="url(#mC)" marker-mid="url(#mC)" marker-end="url(#mC)"/><polyline points="690,428.8 687.9,432.8 685.8,436.7 683.7,440.7 681.7,444.6 681.5,448.6 681.9,452.5 682.4,456.5 679.5,460.4 676.4,464.3 674.1,468.3 672.3,472.2 670.5,476.2 668.6,480.1 666.8,484.1 664.9,488 663.1,492 661.4,495.9 659.7,499.9" fill="none" stroke="#00ffff" stroke-width="2.9" stroke-linejoin="round" marker-start="url(#mC)" marker-mid="url(#mC)" marker-end="url(#mC)"/><g fill="#00ffff"><circle cx="689.4" cy="20" r="5.83"/><circle cx="689.4" cy="24.1" r="5.83"/><circle cx="689.4" cy="28" r="5.83"/><circle cx="669.5" cy="29.3" r="5.83"/><circle cx="729" cy="35.7" r="5.83"/><circle cx="755" cy="50" r="5.83"/><circle cx="735.7" cy="60" r="5.83"/><circle cx="742" cy="63" r="5.83"/><circle cx="780.7" cy="71.7" r="5.83"/><circle cx="786" cy="74" r="5.83"/><circle cx="798" cy="76.8" r="5.83"/><circle cx="815" cy="80" r="5.83"/><circle cx="826" cy="66.6" r="5.83"/><circle cx="841" cy="68.5" r="5.83"/><circle cx="846" cy="73" r="5.83"/><circle cx="851" cy="93.5" r="5.83"/><circle cx="840.6" cy="69" r="5.83"/><circle cx="863.7" cy="83" r="5.83"/><circle cx="932.5" cy="108.8" r="5.83"/><circle cx="942" cy="117.2" r="5.83"/><circle cx="952.4" cy="121.7" r="5.83"/><circle cx="949.8" cy="129.4" r="5.83"/><circle cx="942" cy="135.8" r="5.83"/><circle cx="936" cy="127" r="5.83"/><circle cx="940" cy="124" r="5.83"/><circle cx="922.8" cy="156.4" r="5.83"/><circle cx="743" cy="291.2" r="5.83"/><circle cx="745" cy="303.4" r="5.83"/><circle cx="741" cy="297" r="5.83"/><circle cx="683" cy="452" r="5.83"/><circle cx="674" cy="475" r="5.83"/></g><polyline points="666.6,18.6 667.2,22.5 670,26.4 680,30.4 696.3,34.3 721.9,38.3 726.7,42.2 729.7,46.2 737.8,50.1 744.7,54.1 749.8,58 758.1,62 775.8,65.9 800,69.8 811.7,73.8 822.9,77.7 832.9,81.7 840.9,85.6 848.3,89.6 854.4,93.5 865,97.5 883.8,101.4 900.3,105.4 906.8,109.3 914.9,113.2 923.6,117.2 926.2,121.1 928.2,125.1 927.6,129 926.6,133 924.4,136.9 922.1,140.9 919.8,144.8 917.1,148.7 914.4,152.7 912,156.6 910.1,160.6 908.2,164.5 906.2,168.5 903.6,172.4 901,176.4 897.3,180.3 891.3,184.2 885.4,188.2 879.5,192.1 873.3,196.1 867.1,200 861,204 854.8,207.9 848.8,211.9 843.4,215.8 838.1,219.8 832.9,223.7 827.6,227.6 822.4,231.6 817.3,235.5 812.4,239.5 807.5,243.4 802.7,247.4 797.8,251.3 793.1,255.3 789.1,259.2 785.1,263.1 781.2,267.1 777.2,271 773.2,275 769.2,278.9 765.6,282.9 762,286.8 757.3,290.8 753.9,294.7 752.7,298.7 751.5,302.6 748.8,306.5 745.8,310.5 743,314.4 740.4,318.4 737.8,322.3 735.1,326.3 732.1,330.2 729.2,334.2 726.2,338.1 723.3,342.1 720.4,346 717.6,349.9 714.8,353.9 711.9,357.8 709.1,361.8 707.3,365.7 705.6,369.7 704,373.6 702.3,377.6 700.9,381.5 699.7,385.4 698.5,389.4 697.3,393.3 696.1,397.3 694.9,401.2 693.7,405.2 692.5,409.1 691.3,413.1 690.1,417 688.9,421 687.2,424.9 685.1,428.8 683,432.8 680.9,436.7 678.8,440.7 676.9,444.6 676.1,448.6 675.3,452.5 674.6,456.5 672.9,460.4 671.1,464.3 669.3,468.3 667.5,472.2 665.7,476.2 663.8,480.1 662,484.1 660.1,488 658.3,492 656.6,495.9 654.9,499.9 653.3,503.8 651.6,507.7 649.9,511.7 648.3,515.6 647.2,519.6 646.2,523.5 645.2,527.5 644.2,531.4 643.2,535.4 642.1,539.3 641.1,543.2 640,547.2 639,551.1 638,555.1 637.4,559 636.8,563 636.3,566.9 635.7,570.9 635.1,574.8 634.4,578.8 633.5,582.7 632.5,586.6 631.4,590.6 630.4,594.5 629.4,598.5 628.4,602.4 627.4,606.4 626.9,610.3 626.5,614.3 626,618.2 625.5,622.1 625.1,626.1 624.6,630 624.3,634 624.1,637.9 623.8,641.9 623.6,645.8 623.3,649.8 623.4,653.7 623.5,657.6 623.6,661.6 623.7,665.5 623.8,669.5 623.9,673.4 624,677.4 624.1,681.3 624.2,685.3 624.3,689.2 624.6,693.2 625,697.1 625.3,701 625.6,705 626,708.9 626.3,712.9 626.7,716.8 626.9,720.8 626.6,724.7 626.3,728.7" fill="none" stroke="#0000ff" stroke-width="2.9" stroke-linejoin="round" marker-start="url(#mB)" marker-mid="url(#mB)" marker-end="url(#mB)"/><polyline points="667.4,18.6 668.1,22.5 670.8,26.4 680.8,30.4 697.1,34.3 722.7,38.3 727.5,42.2 730.6,46.2 738.6,50.1 745.5,54.1 750.6,58 758.9,62 776.6,65.9 800.8,69.8 812.5,73.8 823.8,77.7 833.8,81.7 841.7,85.6 849.2,89.6 856.1,93.5 867.5,97.5 887.3,101.4 904.6,105.4 911.2,109.3 919.2,113.2 928,117.2 930.6,121.1 932.5,125.1 931.9,129 930.9,133 928.7,136.9 926.5,140.9 924.1,144.8 921.4,148.7 918.7,152.7 916.4,156.6 914.5,160.6 912.5,164.5 910.6,168.5 907.9,172.4 905.3,176.4 901.6,180.3 895.7,184.2 889.7,188.2 883.8,192.1 877.6,196.1 871.5,200 865.3,204 859.2,207.9 852.9,211.9 847.4,215.8 842,219.8 836.6,223.7 831.1,227.6 825.7,231.6 820.4,235.5 815.4,239.5 810.4,243.4 805.3,247.4 800.3,251.3 795.4,255.3 791.4,259.2 787.4,263.1 783.5,267.1 779.5,271 775.5,275 771.5,278.9 767.8,282.9 764.2,286.8 759.5,290.8 756.1,294.7 754.9,298.7 753.7,302.6 750.9,306.5 748,310.5 745.1,314.4 742.5,318.4 740,322.3 737.2,326.3 734.2,330.2 731.2,334.2 728.3,338.1 725.3,342.1 722.4,346 719.6,349.9 716.8,353.9 713.9,357.8 711.1,361.8 709.2,365.7 707.6,369.7 705.9,373.6 704.3,377.6 702.8,381.5 701.6,385.4 700.4,389.4 699.2,393.3 698,397.3 696.8,401.2 695.6,405.2 694.4,409.1 693.2,413.1 692,417 690.7,421 689,424.9 686.9,428.8 684.8,432.8 682.7,436.7 680.6,440.7 678.6,444.6 677.8,448.6 677,452.5 676.3,456.5 674.6,460.4 672.8,464.3 671,468.3 669.1,472.2 667.3,476.2 665.4,480.1 663.6,484.1 661.7,488 659.9,492 658.2,495.9 656.5,499.9 654.8,503.8 653.1,507.7 651.5,511.7 649.8,515.6 648.7,519.6 647.7,523.5 646.7,527.5 645.7,531.4 644.6,535.4 643.6,539.3 642.5,543.2 641.4,547.2 640.3,551.1 639.4,555.1 638.8,559 638.2,563 637.6,566.9 637,570.9 636.5,574.8 635.9,578.8 635.1,582.7 634.2,586.6 633.3,590.6 632.3,594.5 631.4,598.5 630.5,602.4 629.6,606.4 629.3,610.3 628.9,614.3 628.5,618.2 628.2,622.1 627.8,626.1 627.4,630 627.3,634 627.1,637.9 627,641.9 626.8,645.8 626.7,649.8 626.8,653.7 626.9,657.6 627,661.6 627.1,665.5 627.2,669.5 627.3,673.4 627.4,677.4 627.5,681.3 627.5,685.3 627.6,689.2 627.9,693.2 628.3,697.1 628.6,701 629,705 629.3,708.9 629.6,712.9 630,716.8 630.2,720.8 629.9,724.7 629.7,728.7" fill="none" stroke="#0000ff" stroke-width="2.9" stroke-linejoin="round" marker-start="url(#mB)" marker-mid="url(#mB)" marker-end="url(#mB)"/><polygon points="672.1,19 672.6,22.7 673.8,28.5 676.8,34.5 679.8,37.4 682.4,39.7 686.3,41.9 690.1,44.1 694.4,45.7 698.6,47.3 702.4,48.4 706.1,49.5 709.8,50.5 713.6,51.5 717.2,52.4 721,53.4 724.3,54.1 727.6,54.8 730.9,55.5 734.2,56.3 737.5,57 740.8,57.7 744,58.4 747.1,59.1 750.2,59.9 753.3,60.6 756.4,61.4 759.6,62.1 762.7,62.9 765.8,63.6 769,64.4 772.3,65.1 775.5,65.7 778.8,66.4 782,67.1 785.2,67.7 788.4,68.4 791.6,69.1 794.9,69.7 798,70.4 801,71.1 804,71.8 807,72.5 810,73.1 813,73.8 816,74.5 819,75.2 822,75.9 824.6,76.5 827.5,77.7 830.6,79 833.8,80.3 837,81.6 840.1,82.9 843.2,84.1 846.1,85.4 849,86.7 851.9,87.9 854.8,89.2 857.7,90.5 860.8,91.8 864.2,93 867.4,94.1 870.6,95.2 873.8,96.3 877,97.4 880.2,98.5 882.7,99.2 884.4,100.7 886.8,102.7 889.2,104.7 891.6,106.6 893.9,108.6 896.3,110.6 898.7,112.6 901.1,114.5 903.5,116.5 904.7,117.1 904.4,118.3 904.6,121.3 904.8,124.3 905,127.3 905.1,130.3 905.3,133.3 905.7,134.7 904.5,136 902.7,138.6 900.9,141.2 899,143.8 897.2,146.4 895.4,149 893.6,151.6 891.8,154.2 889.9,156.8 888.1,159.4 886.3,162 884.5,164.6 882.7,167.2 880.8,169.8 879.1,172.3 877.2,174.5 875.2,176.9 873.2,179.3 871.2,181.8 869.2,184.2 867.1,186.6 865.1,189 863.1,191.4 861.1,193.8 859.1,196.2 857.1,198.6 855,201.1 853,203.5 851,205.9 849,208.3 847,210.7 845.1,213 843.1,215.1 841,217.3 838.8,219.5 836.7,221.8 834.6,224 832.5,226.2 830.3,228.5 828.2,230.7 826.1,232.9 824,235.2 821.9,237.4 819.7,239.6 817.6,241.9 815.5,244.1 813.4,246.3 811.3,248.6 809.1,250.8 807,253 804.9,255.2 802.7,257.4 800.6,259.5 798.5,261.7 796.3,263.8 794.2,266 792,268.2 789.9,270.3 787.8,272.5 785.6,274.6 783.5,276.8 781.3,279 779.2,281.1 777.1,283.3 774.9,285.5 772.8,287.6 770.7,289.8 768.4,292 766.4,294.6 764.6,297 762.7,299.4 760.8,301.9 758.9,304.3 757,306.8 755.1,309.2 753.3,311.6 751.4,314.1 749.5,316.5 747.6,318.9 745.7,321.4 743.9,323.8 742,326.2 740.1,328.7 739.2,332 737.2,334.3 735.6,336.9 733.9,339.4 732.3,342 730.6,344.5 729,347.1 726.2,348.9 724.6,351.4 722.9,354 721.2,356.5 719.5,359 717.9,361.6 716.2,364.1 714.5,366.7 712.9,369.2 711.2,371.7 709.5,374.3 707.9,376.8 706.2,379.3 704.5,381.9 702.9,384.4 701.2,386.9 699.5,389.5 697.9,392 696.2,394.6 694.5,397.1 692.9,399.6 691.2,402.2 689.5,404.7 687.9,407.2 686.2,409.8 684.4,412.5 683.3,415.6 682.2,418.5 681.1,421.4 680.1,424.3 679,427.2 677.9,430.1 676.8,433 675.8,435.9 674.7,438.8 673.6,441.7 672.6,444.5 671.5,447.4 670.4,450.3 669.3,453.2 668.3,456.1 667.2,459 666.1,461.9 665.1,464.8 664,467.7 662.9,470.6 661.8,473.5 660.8,476.4 660.9,479.8 659.8,482.6 658.7,485.5 657.6,488.4 656.5,491.3 655.8,494.2 655.1,497.2 654.5,500.1 653.8,503 653.1,505.9 652.4,508.9 651.8,511.8 651.1,514.7 650.4,517.6 649.7,520.6 649,523.5 647.1,526.1 646.4,529 645.7,532 645,534.9 644.3,537.8 643.6,540.7 643,543.7 642.3,546.6 641.6,549.5 640.9,552.4 640.2,555.3 639.5,558.3 638.8,561.2 638.1,564.1 637.4,567 636.7,570.1 636.5,573.3 636.3,576.3 636.1,579.4 636,582.4 635.8,585.4 635.6,588.5 635.4,591.5 635.2,594.6 635,597.6 634.8,600.7 634.6,603.7 634.4,606.8 634.3,609.8 634.1,612.8 633.9,615.9 633.7,618.9 633.5,622 633.3,625 633.1,628.1 632.9,631.1 632.7,634.2 632.6,637.2 632.4,640.2 632.2,643.3 632,646.3 631.8,649.4 631.8,652.5 631.7,655.6 631.7,658.6 631.6,661.6 631.6,664.7 631.6,667.7 631.5,670.7 631.5,673.8 631.5,676.8 631.4,679.8 631.4,682.9 631.3,685.9 631.3,689 631.3,692 631.2,695 631.2,698.1 631.1,701.1 631.1,704.1 631.1,707.2 631,710.2 631,713.2 631,716.3 630.9,719.3 630.9,722.3 630.8,725.4 630.8,728.6 631.1,731.7 631.3,734.8 631.6,737.8 631.8,740.9 632.1,743.9 632.3,746.9 632.6,750 632.8,753 633.1,756 633.4,759.1 633.6,762.1 633.9,765.1 634.1,768.2 634.4,771.2 634.6,774.3 634.9,777.3 635.1,780.3 635.4,783.4 635.6,786.4 635.9,789.4 636.1,792.5 636.4,795.5 636.7,798.5 636.9,801.6 637.2,804.6 637.4,807.7 645.4,806.9 645.1,803.9 644.8,800.9 644.5,797.8 644.2,794.8 643.9,791.8 643.6,788.7 643.3,785.7 643,782.7 642.8,779.6 642.5,776.6 642.2,773.6 641.9,770.5 641.6,767.5 641.3,764.5 641,761.4 640.7,758.4 640.4,755.4 640.1,752.3 639.8,749.3 639.5,746.3 639.2,743.3 639,740.2 638.7,737.2 638.4,734.2 638.1,731.1 637.8,728.2 637.8,725.4 637.7,722.3 637.7,719.3 637.6,716.3 637.6,713.2 637.6,710.2 637.5,707.2 637.5,704.1 637.5,701.1 637.4,698.1 637.4,695 637.3,692 637.3,689 637.3,685.9 637.2,682.9 637.2,679.8 637.1,676.8 637.1,673.8 637.1,670.7 637,667.7 637,664.7 637,661.6 636.9,658.6 636.9,655.6 636.8,652.5 636.8,649.6 636.9,646.6 637,643.5 637.1,640.5 637.2,637.4 637.4,634.4 637.5,631.3 637.6,628.3 637.7,625.2 637.8,622.2 637.9,619.1 638,616.1 638.1,613 638.2,610 638.4,607 638.5,603.9 638.6,600.9 638.7,597.8 638.8,594.8 638.9,591.7 639,588.7 639.1,585.6 639.2,582.6 639.4,579.5 639.5,576.5 639.6,573.4 639.7,570.5 640.3,567.7 641,564.8 641.7,561.9 642.3,558.9 643,556 643.6,553.1 644.3,550.1 645,547.2 645.6,544.3 646.3,541.3 647,538.4 647.6,535.5 648.3,532.6 649,529.6 649.6,526.7 649,523.5 649.7,520.6 650.4,517.6 651.1,514.7 651.8,511.8 652.4,508.9 653.1,505.9 653.8,503 654.5,500.1 655.1,497.2 655.8,494.2 656.5,491.3 657.6,488.4 658.7,485.5 659.8,482.6 660.9,479.8 663.2,477.3 664.4,474.5 665.5,471.6 666.6,468.7 667.7,465.8 668.9,463 670,460.1 671.1,457.2 672.3,454.3 673.4,451.5 674.5,448.6 675.6,445.7 676.8,442.9 677.9,440 679,437.1 680.2,434.2 681.3,431.4 682.4,428.5 683.5,425.6 684.7,422.7 685.8,419.9 686.9,417 688,414.3 689.5,411.9 691.1,409.4 692.8,406.8 694.4,404.2 696,401.7 697.6,399.1 699.2,396.5 700.9,394 702.5,391.4 704.1,388.8 705.7,386.3 707.3,383.7 709,381.1 710.6,378.6 712.2,376 713.8,373.4 715.5,370.9 717.1,368.3 718.7,365.7 720.3,363.2 721.9,360.6 723.6,358 725.2,355.5 726.8,352.9 728.4,350.3 729,347.1 730.6,344.5 732.3,342 733.9,339.4 735.6,336.9 737.2,334.3 739.2,332 742.3,330.5 744.4,328.3 746.5,326 748.5,323.8 750.6,321.5 752.7,319.2 754.8,317 756.9,314.7 759,312.5 761.1,310.2 763.2,308 765.3,305.7 767.4,303.4 769.5,301.2 771.6,298.9 773.6,296.8 775.6,294.7 777.8,292.5 779.9,290.4 782,288.2 784.2,286.1 786.3,283.9 788.5,281.7 790.6,279.6 792.7,277.4 794.9,275.3 797,273.1 799.2,270.9 801.3,268.8 803.4,266.6 805.6,264.4 807.7,262.3 809.8,260.1 812,258 814.2,255.8 816.4,253.6 818.6,251.5 820.8,249.3 823,247.2 825.2,245 827.4,242.9 829.6,240.7 831.8,238.6 834,236.4 836.2,234.2 838.4,232.1 840.6,229.9 842.8,227.8 845,225.6 847.2,223.5 849.4,221.3 851.7,219 853.9,216.5 855.9,214.1 857.9,211.7 859.9,209.2 861.9,206.8 864,204.4 866,202 868,199.6 870,197.2 872,194.8 874,192.4 876.1,189.9 878.1,187.5 880.1,185.1 882.1,182.7 884.1,180.3 886.3,177.7 888.2,175 890,172.4 891.8,169.8 893.7,167.2 895.5,164.6 897.3,162 899.1,159.4 900.9,156.8 902.8,154.2 904.6,151.6 906.4,149 908.2,146.4 910,143.8 911.9,141.2 914.3,137.3 914.3,132.7 914.1,129.7 913.9,126.7 913.7,123.7 913.6,120.7 913.4,117.7 912.7,112.9 909.2,109.6 906.8,107.6 904.4,105.6 902,103.7 899.7,101.7 897.3,99.7 894.9,97.7 892.5,95.8 890.1,93.8 887.1,91.4 883.1,89.9 879.9,88.8 876.7,87.7 873.5,86.6 870.3,85.5 867.1,84.4 864,83.4 861.3,82.2 858.4,80.9 855.5,79.7 852.6,78.4 849.7,77.1 846.8,75.9 843.5,74.5 840.4,73.2 837.2,71.9 834,70.6 830.9,69.3 827.4,67.9 824,67.1 821,66.4 818,65.7 815,65.1 812,64.4 809,63.7 806,63 803,62.3 800,61.6 796.7,60.9 793.5,60.3 790.2,59.6 787,58.9 783.8,58.3 780.6,57.6 777.4,56.9 774.1,56.3 771,55.6 767.9,54.9 764.8,54.1 761.7,53.4 758.6,52.6 755.4,51.9 752.3,51.1 749.2,50.4 746,49.6 742.7,48.9 739.4,48.2 736.1,47.5 732.8,46.7 729.5,46 726.2,45.3 723,44.6 719.4,43.7 715.8,42.8 712.2,41.9 708.6,40.8 704.9,39.7 701.4,38.7 697.6,37.3 693.9,35.9 690.7,34.1 687.6,32.3 685.7,30.6 684.2,29.5 682.2,25.5 681.4,21.3 681.1,18" fill="#ff0000"/><polyline points="676.6,18.5 677,22 678,27 680.5,32 685,36 692,40 700,43 711,46.2 722,49 745,54 770,60 799,66 826,72.2 845,80 862.4,87.6 884.9,95.3 908.7,115 910,136 882.7,175 848.4,216 809.5,255.5 771,294.4 737.2,334.3 686.2,413.4 656.5,491.3 638.2,570.3 634.3,649.5 634.3,728.4 641.4,807.3" fill="none" stroke="#ff0000" stroke-width="2.9" stroke-linejoin="round" stroke-linecap="round" /><g fill="#ff0000"><circle cx="676.6" cy="18.6" r="5.83"/><circle cx="676.8" cy="20.1" r="5.83"/><circle cx="677" cy="21.7" r="5.83"/><circle cx="677.3" cy="23.3" r="5.83"/><circle cx="677.6" cy="24.9" r="5.83"/><circle cx="677.9" cy="26.4" r="5.83"/><circle cx="678.5" cy="28" r="5.83"/><circle cx="679.7" cy="30.4" r="5.83"/><circle cx="683.1" cy="34.3" r="5.83"/><circle cx="689" cy="38.3" r="5.83"/><circle cx="697.9" cy="42.2" r="5.83"/><circle cx="710.9" cy="46.2" r="5.83"/><circle cx="727.2" cy="50.1" r="5.83"/><circle cx="745.3" cy="54.1" r="5.83"/><circle cx="761.7" cy="58" r="5.83"/><circle cx="798.5" cy="65.9" r="5.83"/><circle cx="829.9" cy="73.8" r="5.83"/><circle cx="848.8" cy="81.7" r="5.83"/><circle cx="868.2" cy="89.6" r="5.83"/><circle cx="887.5" cy="97.5" r="5.83"/><circle cx="908.8" cy="117.2" r="5.83"/><circle cx="909.4" cy="136.9" r="5.83"/><circle cx="881.6" cy="176.4" r="5.83"/><circle cx="848.6" cy="215.8" r="5.83"/><circle cx="809.7" cy="255.3" r="5.83"/><circle cx="770.7" cy="294.7" r="5.83"/><circle cx="737.3" cy="334.2" r="5.83"/><circle cx="686.4" cy="413.1" r="5.83"/><circle cx="656.3" cy="492" r="5.83"/><circle cx="638.2" cy="570.9" r="5.83"/><circle cx="634.3" cy="649.8" r="5.83"/><circle cx="634.3" cy="728.7" r="5.83"/><circle cx="641.4" cy="807.6" r="5.83"/></g><polyline points="634,18.6 634.2,20.1 634.5,21.7 635,23.3 635.6,24.9 636.3,26.4 637.2,28 639,30.4 643,34.3 659.2,39.6 672.1,44.1 689.4,46.6 712.3,50.5 733.8,55.6 753.7,60.1 789.7,65.9 818.6,74.3 837.2,82.6 856.3,90 872.7,98.6 900.3,117.8 907.4,137.1 885.1,175.8 860.5,216.5 825.6,255.5 788.6,294.4 753.5,334.5 691.3,413.4 638.5,491.3 631.4,570.3 632.4,649.5 636.3,728.4 644.6,807.3" fill="none" stroke="#008000" stroke-width="2.9" stroke-linejoin="round" stroke-linecap="round" /><g fill="#008000"><circle cx="634" cy="18.6" r="5.83"/><circle cx="634.2" cy="20.1" r="5.83"/><circle cx="634.5" cy="21.7" r="5.83"/><circle cx="635" cy="23.3" r="5.83"/><circle cx="635.6" cy="24.9" r="5.83"/><circle cx="636.3" cy="26.4" r="5.83"/><circle cx="637.2" cy="28" r="5.83"/><circle cx="639" cy="30.4" r="5.83"/><circle cx="643" cy="34.3" r="5.83"/><circle cx="659.2" cy="39.6" r="5.83"/><circle cx="672.1" cy="44.1" r="5.83"/><circle cx="689.4" cy="46.6" r="5.83"/><circle cx="712.3" cy="50.5" r="5.83"/><circle cx="733.8" cy="55.6" r="5.83"/><circle cx="753.7" cy="60.1" r="5.83"/><circle cx="789.7" cy="65.9" r="5.83"/><circle cx="818.6" cy="74.3" r="5.83"/><circle cx="837.2" cy="82.6" r="5.83"/><circle cx="856.3" cy="90" r="5.83"/><circle cx="872.7" cy="98.6" r="5.83"/><circle cx="900.3" cy="117.8" r="5.83"/><circle cx="907.4" cy="137.1" r="5.83"/><circle cx="885.1" cy="175.8" r="5.83"/><circle cx="860.5" cy="216.5" r="5.83"/><circle cx="825.6" cy="255.5" r="5.83"/><circle cx="788.6" cy="294.4" r="5.83"/><circle cx="753.5" cy="334.5" r="5.83"/><circle cx="691.3" cy="413.4" r="5.83"/><circle cx="638.5" cy="491.3" r="5.83"/><circle cx="631.4" cy="570.3" r="5.83"/><circle cx="632.4" cy="649.5" r="5.83"/><circle cx="636.3" cy="728.4" r="5.83"/><circle cx="644.6" cy="807.3" r="5.83"/></g><polyline points="647.1,18.9 647.1,19.8 647.1,20.7 647.2,21.6 647.3,22.6 647.4,23.6 647.6,24.8 647.8,26.1 648.1,27.6 648.5,29.2 649.2,31 650.2,33.2 672.1,36.3 708.4,37.6 728.6,42.1 737.6,45.3 744.7,49.2 754.3,56.3 773.6,62.1 807.7,70.4 846.9,80 870.8,91.5 891.3,105 911.3,121 917.7,141 903.5,165.4 870.3,194.2 842.9,228.1 797.5,269.4 762.5,318.6 735.6,376.5 698.7,445.3 662.6,526.4 644.6,620.6 643.7,730.6" fill="none" stroke="#ff00ff" stroke-width="2.9" stroke-linejoin="round" stroke-linecap="round" /><g fill="#ff00ff"><circle cx="647.1" cy="18.9" r="5.83"/><circle cx="647.1" cy="19.8" r="5.83"/><circle cx="647.1" cy="20.7" r="5.83"/><circle cx="647.2" cy="21.6" r="5.83"/><circle cx="647.3" cy="22.6" r="5.83"/><circle cx="647.4" cy="23.6" r="5.83"/><circle cx="647.6" cy="24.8" r="5.83"/><circle cx="647.8" cy="26.1" r="5.83"/><circle cx="648.1" cy="27.6" r="5.83"/><circle cx="648.5" cy="29.2" r="5.83"/><circle cx="649.2" cy="31" r="5.83"/><circle cx="650.2" cy="33.2" r="5.83"/><circle cx="672.1" cy="36.3" r="5.83"/><circle cx="708.4" cy="37.6" r="5.83"/><circle cx="728.6" cy="42.1" r="5.83"/><circle cx="737.6" cy="45.3" r="5.83"/><circle cx="744.7" cy="49.2" r="5.83"/><circle cx="754.3" cy="56.3" r="5.83"/><circle cx="773.6" cy="62.1" r="5.83"/><circle cx="807.7" cy="70.4" r="5.83"/><circle cx="846.9" cy="80" r="5.83"/><circle cx="870.8" cy="91.5" r="5.83"/><circle cx="891.3" cy="105" r="5.83"/><circle cx="911.3" cy="121" r="5.83"/><circle cx="917.7" cy="141" r="5.83"/><circle cx="903.5" cy="165.4" r="5.83"/><circle cx="870.3" cy="194.2" r="5.83"/><circle cx="842.9" cy="228.1" r="5.83"/><circle cx="797.5" cy="269.4" r="5.83"/><circle cx="762.5" cy="318.6" r="5.83"/><circle cx="735.6" cy="376.5" r="5.83"/><circle cx="698.7" cy="445.3" r="5.83"/><circle cx="662.6" cy="526.4" r="5.83"/><circle cx="644.6" cy="620.6" r="5.83"/><circle cx="643.7" cy="730.6" r="5.83"/></g>
</g>
<path d="M655.4 814.3v5.83M721.9 814.3v5.83M788.4 814.3v5.83M854.9 814.3v5.83M921.4 814.3v5.83M589.5 19.2h-5.83M589.5 97.5h-5.83M589.5 176.4h-5.83M589.5 255.3h-5.83M589.5 334.2h-5.83M589.5 413.1h-5.83M589.5 492h-5.83M589.5 570.9h-5.83M589.5 649.8h-5.83M589.5 728.7h-5.83M589.5 807.6h-5.83" stroke="#000" stroke-width="1.33" fill="none"/><rect x="589.5" y="19.2" width="397" height="795.1" fill="none" stroke="#000" stroke-width="1.33"/><text x="655.1" y="841.7" font-size="16.9" text-anchor="middle" fill="#000" >35.0</text><text x="721.6" y="841.7" font-size="16.9" text-anchor="middle" fill="#000" >35.5</text><text x="788.1" y="841.7" font-size="16.9" text-anchor="middle" fill="#000" >36.0</text><text x="854.6" y="841.7" font-size="16.9" text-anchor="middle" fill="#000" >36.5</text><text x="921.1" y="841.7" font-size="16.9" text-anchor="middle" fill="#000" >37.0</text>
</g>
<g id="ax2">
<path d="M1106.5 19.2V814.3M1176.5 19.2V814.3M1245.5 19.2V814.3M1314.5 19.2V814.3M1383.5 19.2V814.3M1452.5 19.2V814.3M1078.6 19.5H1476.6M1078.6 97.5H1476.6M1078.6 176.5H1476.6M1078.6 255.5H1476.6M1078.6 334.5H1476.6M1078.6 413.5H1476.6M1078.6 491.5H1476.6M1078.6 570.5H1476.6M1078.6 649.5H1476.6M1078.6 728.5H1476.6M1078.6 807.5H1476.6" stroke="#a2a2a2" stroke-width="0.9" stroke-dasharray="3.2 1.4" fill="none"/>
<g clip-path="url(#c2)">
<polyline points="1103.3,19.3 1103.4,23.3 1104.3,27.2 1106.3,31.1 1109.8,35.1 1115.2,39 1117.9,43 1121.1,46.9 1124.7,50.9 1128.2,54.8 1131.7,58.8 1138.2,62.7 1145.3,66.7 1151.6,70.6 1157.4,74.5 1163.2,78.5 1168,82.4 1173,86.4 1178.1,90.3 1185.2,94.3 1192.8,98.2 1200.1,102.2 1207.1,106.1 1213.8,110 1219.1,114 1223.4,117.9 1226.8,121.9 1230,125.8 1233,129.8 1236.4,133.7 1239.8,137.7 1243.9,141.6 1248.6,145.6 1253.9,149.5 1259.1,153.4 1263.9,157.4 1267.7,161.3 1270.5,165.3 1272.4,169.2 1274.2,173.2 1275.9,177.1 1278.1,181.1 1280.3,185 1282.5,188.9 1284.7,192.9 1286.4,196.8 1288.1,200.8 1289.8,204.7 1291.2,208.7 1292.6,212.6 1294,216.6 1295.4,220.5 1296.7,224.5 1297.6,228.4 1298.7,232.3 1299.8,236.3 1301.1,240.2 1303.2,244.2 1305.3,248.1 1307.4,252.1 1309.3,256 1310.6,260 1311.9,263.9 1313.2,267.8 1314.5,271.8 1315.4,275.7 1316.4,279.7" fill="none" stroke="#00ffff" stroke-width="2.9" stroke-linejoin="round" marker-start="url(#mC)" marker-mid="url(#mC)" marker-end="url(#mC)"/><polyline points="1102.5,19 1103.3,22.9 1104.8,26.9 1107.3,30.8 1111.2,34.8 1116.2,38.7 1118.4,42.7 1120.8,46.6 1123.7,50.5 1127.3,54.5 1131,58.4 1136.8,62.4 1143.8,66.3 1150.2,70.3 1155.9,74.2 1161.7,78.2 1166.9,82.1 1172,86.1 1177.1,90 1183,93.9 1190.5,97.9 1197.8,101.8 1204,105.8 1210.3,109.7 1215.5,113.7 1220.3,117.6 1224.6,121.6 1228.9,125.5 1232.8,129.4 1236.8,133.4 1240.9,137.3 1245.3,141.3 1250.3,145.2 1255,149.2 1259.8,153.1 1263.9,157.1 1266.8,161 1270.1,165 1272.5,168.9 1274.8,172.8 1277.2,176.8 1279,180.7 1280.9,184.7 1282.8,188.6 1284.7,192.6 1286.9,196.5 1289.2,200.5 1291.4,204.4 1293.1,208.3 1294.4,212.3 1295.7,216.2" fill="none" stroke="#00ffff" stroke-width="2.9" stroke-linejoin="round" marker-start="url(#mC)" marker-mid="url(#mC)" marker-end="url(#mC)"/><polyline points="1102.5,21.1 1102.5,25 1103.7,29 1105.4,32.9 1108.4,36.9 1113.4,40.8 1116.3,44.8 1119.6,48.7 1123.5,52.6 1127.6,56.6 1131.8,60.5 1139.7,64.5 1147.5,68.4 1154.3,72.4 1161,76.3 1167.1,80.3 1172.2,84.2 1176.5,88.2 1181.3,92.1 1188,96 1194.6,100 1200.3,103.9 1206,107.9 1211.7,111.8 1216.2,115.8 1219.6,119.7 1224.1,123.7 1228.4,127.6 1232.2,131.5 1237,135.5 1241.9,139.4 1246.1,143.4 1250.6,147.3 1254.2,151.3 1257.8,155.2 1261.3,159.2 1264.3,163.1 1268.1,167.1 1271.1,171 1273.9,174.9 1276.7,178.9 1278.9,182.8 1281.1,186.8 1283.3,190.7 1285.5,194.7 1287.3,198.6 1288.8,202.6 1290.4,206.5 1291.3,210.4 1292.9,214.4 1294.6,218.3 1296.2,222.3 1297.9,226.2 1298.6,230.2 1299.6,234.1 1300.6,238.1 1301.6,242 1303,246 1304.3,249.9 1305.7,253.8 1306.9,257.8" fill="none" stroke="#00ffff" stroke-width="2.9" stroke-linejoin="round" marker-start="url(#mC)" marker-mid="url(#mC)" marker-end="url(#mC)"/><polyline points="1101.9,20.2 1102.3,24.1 1103.8,28.1 1105.8,32 1108.7,35.9 1112.9,39.9 1116,43.8 1118.9,47.8 1122.4,51.7 1126.5,55.7 1130.8,59.6 1137.6,63.6 1144.4,67.5 1151.1,71.4 1157.5,75.4 1163.9,79.3 1169.7,83.3 1174.5,87.2 1179.3,91.2 1186.1,95.1 1193.4,99.1 1199.4,103 1205.2,107 1210.9,110.9 1215.3,114.8 1219.1,118.8 1223.2,122.7 1227.1,126.7 1230.6,130.6 1234.9,134.6 1239.1,138.5 1243.9,142.5 1249.2,146.4 1254.2,150.3 1259.2,154.3 1263.3,158.2 1266.7,162.2 1269.2,166.1 1271,170.1 1272.9,174 1274.4,178" fill="none" stroke="#00ffff" stroke-width="2.9" stroke-linejoin="round" marker-start="url(#mC)" marker-mid="url(#mC)" marker-end="url(#mC)"/><polyline points="1101.4,20.4 1101.6,24.4 1103.1,28.3 1105.3,32.3 1108.9,36.2 1113.6,40.2 1116.2,44.1 1119.3,48 1122.7,52 1126.4,55.9 1130.1,59.9 1137.3,63.8 1144.7,67.8 1151.6,71.7 1158.3,75.7 1164.7,79.6 1169.4,83.6 1173.7,87.5 1178,91.4 1184.1,95.4 1190.6,99.3 1198,103.3 1204.8,107.2 1211.4,111.2 1216.5,115.1 1221.8,119.1 1226.5,123 1230.8,126.9 1234.9,130.9 1238.2,134.8 1241.4,138.8 1244.8,142.7 1248.4,146.7 1253,150.6 1257.6,154.6 1261.6,158.5 1265.2,162.5 1268.5,166.4 1270.9,170.3 1273.3,174.3 1275.6,178.2 1277.3,182.2 1279.1,186.1 1280.9,190.1 1282.6,194 1284.7,198 1286.6,201.9 1288.5,205.8 1289.8,209.8 1291.5,213.7 1293.3,217.7 1295.1,221.6 1296.8,225.6 1297.8,229.5 1299,233.5 1300.1,237.4 1301.1,241.4 1302.6,245.3 1304,249.2 1305.4,253.2 1306.6,257.1 1308.1,261.1 1309.6,265 1311,269 1312.5,272.9 1314,276.9 1315.3,280.8" fill="none" stroke="#00ffff" stroke-width="2.9" stroke-linejoin="round" marker-start="url(#mC)" marker-mid="url(#mC)" marker-end="url(#mC)"/><polyline points="1103.6,21.1 1104,25.1 1105.6,29 1107.6,32.9 1110.7,36.9 1115,40.8 1117.7,44.8 1120.7,48.7 1124.1,52.7 1127.9,56.6 1132,60.6 1139.6,64.5 1147.2,68.4 1154.1,72.4 1161.1,76.3 1167.1,80.3 1171.7,84.2 1176.6,88.2 1182,92.1 1189,96.1 1196,100 1201.7,104 1207.3,107.9 1212.6,111.8 1216.7,115.8 1221.2,119.7 1225.9,123.7 1230.2,127.6 1234.4,131.6 1238.5,135.5 1242.6,139.5 1246.9,143.4 1251.5,147.3 1256,151.3 1260.5,155.2 1264,159.2 1267.4,163.1 1270.4,167.1 1272.8,171 1275.1,175 1277.2,178.9 1279.6,182.9 1281.9,186.8 1284.3,190.7 1286.6,194.7 1288,198.6 1289.4,202.6 1290.5,206.5 1291.1,210.5 1292.3,214.4 1293.5,218.4 1294.7,222.3 1295.8,226.2 1298.2,230.2 1300.5,234.1 1302.9,238.1 1305.1,242" fill="none" stroke="#00ffff" stroke-width="2.9" stroke-linejoin="round" marker-start="url(#mC)" marker-mid="url(#mC)" marker-end="url(#mC)"/><polyline points="1101.7,18.6 1101.9,22.5 1102.3,26.4 1104.1,30.4 1106.5,34.3 1110.7,38.3 1114.8,42.2 1117.6,46.2 1121.4,50.1 1125.3,54.1 1129.2,58 1135.1,62 1142,65.9 1148.7,69.8 1154.8,73.8 1160.9,77.7 1166.2,81.7 1171.1,85.6 1176,89.6 1181.8,93.5 1189,97.5 1196,101.4 1202.1,105.4 1208.1,109.3 1213.4,113.2 1217.9,117.2 1222.4,121.1 1226.8,125.1 1230.8,129 1234.8,133 1238.7,136.9 1242.6,140.9 1246.8,144.8 1251.1,148.7 1255.5,152.7 1259.7,156.6 1262.9,160.6 1266.1,164.5 1268.8,168.5 1271,172.4 1273.3,176.4 1275.2,180.3 1277.2,184.2 1279.2,188.2 1281.2,192.1 1283.2,196.1 1285.1,200 1287.1,204 1288.8,207.9 1290.1,211.9 1291.3,215.8 1292.6,219.8 1293.9,223.7 1295.2,227.6 1296.7,231.6 1298.3,235.5 1299.9,239.5 1301.4,243.4 1303,247.4 1304.6,251.3 1306.2,255.3 1307.4,259.2 1308.6,263.1 1309.9,267.1 1311.1,271 1312.3,275 1313.5,278.9 1314.8,282.9 1316,286.8 1317.2,290.8 1318.5,294.7 1319.7,298.7 1320.9,302.6 1322.2,306.5 1323.4,310.5 1324.6,314.4 1325.8,318.4 1327,322.3 1328.2,326.3 1329.4,330.2 1330.6,334.2 1331.7,338.1 1332.9,342.1 1334,346 1335.2,349.9 1336.3,353.9 1337.5,357.8 1338.6,361.8 1339.8,365.7 1340.9,369.7 1342.1,373.6 1343.2,377.6 1344.4,381.5 1345.5,385.4 1346.7,389.4 1347.8,393.3 1349,397.3 1350.1,401.2 1351.3,405.2 1352.4,409.1 1353.6,413.1 1354.7,417 1355.9,421 1357,424.9 1358.2,428.8 1359.3,432.8 1360.5,436.7 1361.6,440.7 1362.8,444.6 1363.8,448.6 1364.8,452.5 1365.8,456.5 1366.9,460.4 1367.9,464.3 1368.9,468.3 1369.9,472.2 1370.9,476.2 1372,480.1 1373,484.1 1374,488 1375,492 1376,495.9 1377.1,499.9 1378.1,503.8 1379.1,507.7 1380.1,511.7 1381.1,515.6 1382.1,519.6 1383.2,523.5 1384.2,527.5 1385.3,531.4 1386.4,535.4 1387.5,539.3 1388.6,543.2 1389.6,547.2 1390.7,551.1 1391.8,555.1 1392.9,559 1394,563 1395.1,566.9 1396.2,570.9 1397.2,574.8 1398.3,578.8 1399.4,582.7 1400.5,586.6 1401.6,590.6 1402.7,594.5 1403.8,598.5 1404.9,602.4 1405.9,606.4 1407,610.3 1408.1,614.3 1409.2,618.2 1410.2,622.1 1411.1,626.1 1412,630 1412.9,634 1413.8,637.9 1414.7,641.9 1415.6,645.8 1416.5,649.8 1417.4,653.7 1418.3,657.6 1419.2,661.6 1420,665.5 1420.9,669.5 1421.8,673.4 1422.7,677.4 1423.6,681.3 1424.5,685.3 1425.4,689.2 1426.3,693.2 1427.2,697.1 1428.1,701 1429,705 1429.9,708.9 1430.8,712.9 1431.7,716.8 1432.6,720.8 1433.5,724.7 1434.1,728.7" fill="none" stroke="#0000ff" stroke-width="2.9" stroke-linejoin="round" marker-start="url(#mB)" marker-mid="url(#mB)" marker-end="url(#mB)"/><polyline points="1103.1,18.6 1103.3,22.5 1103.7,26.4 1105.5,30.4 1108,34.3 1112.2,38.3 1116.3,42.2 1119.1,46.2 1123,50.1 1126.8,54.1 1130.8,58 1136.6,62 1143.6,65.9 1150.3,69.8 1156.4,73.8 1162.5,77.7 1167.8,81.7 1172.7,85.6 1177.6,89.6 1183.5,93.5 1190.7,97.5 1197.7,101.4 1203.8,105.4 1209.8,109.3 1215.1,113.2 1219.6,117.2 1224.1,121.1 1228.6,125.1 1232.6,129 1236.6,133 1240.5,136.9 1244.5,140.9 1249,144.8 1253.4,148.7 1257.9,152.7 1262.3,156.6 1265.7,160.6 1269,164.5 1271.8,168.5 1274.2,172.4 1276.6,176.4 1278.5,180.3 1280.5,184.2 1282.5,188.2 1284.4,192.1 1286.4,196.1 1288.3,200 1290.3,204 1291.9,207.9 1293.2,211.9 1294.4,215.8 1295.7,219.8 1296.9,223.7 1298.2,227.6 1299.7,231.6 1301.2,235.5 1302.8,239.5 1304.3,243.4 1305.9,247.4 1307.5,251.3 1309,255.3 1310.2,259.2 1311.4,263.1 1312.5,267.1 1313.7,271 1314.9,275 1316.1,278.9 1317.3,282.9 1318.4,286.8 1319.6,290.8 1320.8,294.7 1322,298.7 1323.2,302.6 1324.3,306.5 1325.5,310.5 1326.7,314.4 1327.9,318.4 1329,322.3 1330.1,326.3 1331.3,330.2 1332.4,334.2 1333.5,338.1 1334.7,342.1 1335.8,346 1337,349.9 1338.1,353.9 1339.3,357.8 1340.4,361.8 1341.6,365.7 1342.7,369.7 1343.9,373.6 1345.1,377.6 1346.2,381.5 1347.3,385.4 1348.5,389.4 1349.6,393.3 1350.8,397.3 1351.9,401.2 1353.1,405.2 1354.2,409.1 1355.4,413.1 1356.5,417 1357.7,421 1358.8,424.9 1360,428.8 1361.1,432.8 1362.3,436.7 1363.4,440.7 1364.6,444.6 1365.6,448.6 1366.7,452.5 1367.7,456.5 1368.7,460.4 1369.7,464.3 1370.7,468.3 1371.7,472.2 1372.8,476.2 1373.8,480.1 1374.8,484.1 1375.8,488 1376.8,492 1377.9,495.9 1378.9,499.9 1379.9,503.8 1380.9,507.7 1381.9,511.7 1383,515.6 1384,519.6 1385,523.5 1386,527.5 1387.1,531.4 1388.2,535.4 1389.3,539.3 1390.4,543.2 1391.5,547.2 1392.6,551.1 1393.6,555.1 1394.7,559 1395.8,563 1396.9,566.9 1398,570.9 1399.1,574.8 1400.2,578.8 1401.2,582.7 1402.3,586.6 1403.4,590.6 1404.5,594.5 1405.6,598.5 1406.7,602.4 1407.8,606.4 1408.9,610.3 1409.9,614.3 1411,618.2 1412,622.1 1412.9,626.1 1413.8,630 1414.7,634 1415.6,637.9 1416.5,641.9 1417.4,645.8 1418.3,649.8 1419.2,653.7 1420.1,657.6 1421,661.6 1421.9,665.5 1422.8,669.5 1423.7,673.4 1424.6,677.4 1425.5,681.3 1426.3,685.3 1427.2,689.2 1428.1,693.2 1429,697.1 1429.9,701 1430.8,705 1431.7,708.9 1432.6,712.9 1433.5,716.8 1434.4,720.8 1435.3,724.7 1435.9,728.7" fill="none" stroke="#0000ff" stroke-width="2.9" stroke-linejoin="round" marker-start="url(#mB)" marker-mid="url(#mB)" marker-end="url(#mB)"/><polygon points="1096.5,18.7 1096.7,22.5 1096.8,26.4 1097.1,31.1 1099.1,35.8 1101.4,40.8 1105.7,44.3 1109.5,47.2 1112.8,49.1 1115.8,50.8 1118.7,52.4 1122,54.4 1125.3,56.4 1128.6,58.4 1131.4,60.1 1134.2,61.9 1137,63.6 1140,65.5 1143.1,66.9 1145.9,68.1 1148.7,69.4 1151.2,70.4 1154,72.1 1157,74 1160,75.8 1163,77.7 1165.7,79.3 1168.3,80.9 1171.1,82.6 1174,84.1 1176.7,85.4 1179.1,86.6 1181.4,88.3 1184.1,90.1 1186.7,92 1189.3,93.9 1192,95.8 1195.3,98.2 1199.1,99.5 1202.3,100.6 1204.5,101.2 1206.2,102.7 1208.6,104.7 1211,106.7 1213.4,108.8 1215.8,110.8 1218.2,112.8 1220.6,114.9 1223,116.9 1225.4,118.8 1227.8,120.9 1230.2,123 1232.6,125.1 1235,127.2 1237.5,129.3 1239.9,131.4 1242.3,133.5 1244.8,135.6 1247.2,137.7 1249.1,139.2 1250.4,141.2 1252.2,143.7 1254,146.2 1255.8,148.8 1257.6,151.3 1259.4,153.8 1261.3,156.4 1263.1,158.9 1264.9,161.4 1266.7,164 1268.5,166.5 1270.3,169 1272.2,171.5 1274,174.1 1275.6,176.3 1276.8,178.9 1278.2,181.8 1279.6,184.6 1281,187.5 1282.3,190.4 1283.7,193.3 1285.1,196.2 1286.4,199.2 1287.8,202.1 1289.1,205 1290.5,207.9 1291.8,210.8 1293.2,213.7 1294.5,216.6 1295.6,219.5 1296.7,222.5 1297.8,225.5 1298.8,228.5 1299.9,231.6 1301,234.6 1302,237.6 1304.3,240.2 1305.3,243.2 1306.4,246.2 1307.4,249.3 1308.5,252.3 1309.5,255.3 1310.5,258.3 1311.4,261.3 1312.4,264.3 1313.3,267.2 1314.3,270.2 1315.3,273.2 1316.2,276.2 1317.2,279.2 1318.2,282.2 1319.1,285.1 1320.1,288.1 1321,291.1 1322,294.1 1322.9,297 1323.9,299.8 1324.8,302.7 1325.7,305.6 1326.6,308.4 1327.6,311.3 1328.5,314.1 1329.4,317 1330.4,319.9 1331.3,322.7 1332.2,325.6 1333.1,328.5 1334.1,331.3 1335,334.2 1335.8,337.1 1336.7,340.1 1337.5,343 1338.3,345.9 1339.2,348.9 1340,351.8 1340.8,354.7 1341.7,357.7 1342.5,360.6 1343.3,363.5 1344.2,366.5 1345,369.4 1345.8,372.3 1346.7,375.3 1347.5,378.2 1348.3,381.1 1349.2,384.1 1350,387 1350.8,389.9 1351.7,392.9 1352.5,395.8 1353.3,398.7 1354.2,401.7 1355,404.6 1355.8,407.5 1356.7,410.5 1357.5,413.4 1358.3,416.4 1359.1,419.4 1359.9,422.4 1360.7,425.4 1361.5,428.4 1362.3,431.4 1363.2,434.4 1364,437.4 1364.8,440.4 1365.6,443.4 1366.4,446.4 1367.2,449.4 1368,452.4 1368.8,455.4 1369.6,458.4 1370.4,461.4 1371.2,464.4 1372,467.4 1372.8,470.4 1373.7,473.4 1374.5,476.4 1375.3,479.4 1376.1,482.4 1376.9,485.4 1377.7,488.4 1378.5,491.4 1379.2,494.3 1380,497.2 1380.7,500.2 1381.5,503.1 1382.2,506 1382.9,508.9 1383.7,511.8 1384.4,514.7 1385.2,517.7 1385.9,520.6 1386.6,523.5 1387.4,526.4 1388.1,529.3 1388.9,532.3 1389.6,535.2 1390.4,538.1 1391.1,541 1391.8,543.9 1392.6,546.9 1393.3,549.8 1394.1,552.7 1394.8,555.6 1395.5,558.5 1396.3,561.4 1397,564.4 1397.8,567.3 1398.5,570.2 1399.3,573.1 1400.1,576.1 1400.8,579 1401.6,581.9 1402.4,584.8 1403.2,587.8 1403.9,590.7 1404.7,593.6 1405.5,596.5 1406.3,599.5 1407.1,602.4 1407.8,605.3 1408.6,608.2 1409.4,611.2 1410.2,614.1 1410.9,617 1411.7,619.9 1412.5,622.9 1413.3,625.8 1414.1,628.7 1414.8,631.6 1415.6,634.6 1416.4,637.5 1417.2,640.4 1417.9,643.3 1418.7,646.3 1419.5,649.2 1420.2,652.2 1421,655.3 1420.4,658.6 1421,661.6 1421.7,664.7 1422.4,667.7 1423,670.8 1423.7,673.8 1424.4,676.9 1425,679.9 1425.7,682.9 1426.3,686 1427,689 1427.7,692.1 1428.3,695.1 1429,698.2 1429.6,701.2 1430.3,704.3 1431,707.3 1431.6,710.3 1432.3,713.4 1433,716.4 1433.6,719.5 1434.3,722.5 1434.9,725.6 1435.6,728.6 1436.4,731.6 1437.1,734.5 1437.9,737.5 1438.6,740.4 1439.4,743.3 1440.2,746.3 1440.9,749.2 1441.7,752.1 1442.4,755.1 1443.2,758 1444,760.9 1444.7,763.9 1445.5,766.8 1446.2,769.8 1447,772.7 1447.8,775.6 1448.5,778.6 1449.3,781.5 1450,784.4 1450.8,787.4 1451.6,790.3 1452.3,793.2 1453.1,796.2 1453.8,799.1 1454.6,802 1455.4,805 1456.1,807.9 1462.9,806.1 1462.1,803.2 1461.3,800.3 1460.5,797.3 1459.7,794.4 1458.9,791.5 1458.1,788.6 1457.3,785.6 1456.5,782.7 1455.7,779.8 1454.9,776.9 1454.1,773.9 1453.3,771 1452.5,768.1 1451.7,765.2 1450.9,762.2 1450.1,759.3 1449.4,756.4 1448.6,753.5 1447.8,750.5 1447,747.6 1446.2,744.7 1445.4,741.8 1444.6,738.8 1443.8,735.9 1443,733 1442.2,730.1 1441.4,727.2 1440.6,724.2 1439.8,721.2 1439,718.2 1438.2,715.2 1437.4,712.1 1436.6,709.1 1435.8,706.1 1435,703.1 1434.2,700.1 1433.4,697.1 1432.6,694.1 1431.8,691.1 1431,688.1 1430.2,685.1 1429.4,682 1428.6,679 1427.8,676 1427,673 1426.2,670 1425.4,667 1424.6,664 1423.8,661 1423,658 1421,655.3 1420.2,652.2 1419.5,649.2 1418.7,646.3 1417.9,643.3 1417.2,640.4 1416.4,637.5 1415.6,634.6 1414.8,631.6 1414.1,628.7 1413.3,625.8 1412.5,622.9 1411.7,619.9 1410.9,617 1410.2,614.1 1409.4,611.2 1408.6,608.2 1407.8,605.3 1407.1,602.4 1406.3,599.5 1405.5,596.5 1404.7,593.6 1403.9,590.7 1403.2,587.8 1402.4,584.8 1401.6,581.9 1400.8,579 1400.1,576.1 1399.3,573.1 1398.5,570.2 1397.8,567.3 1397,564.4 1396.3,561.4 1395.5,558.5 1394.8,555.6 1394.1,552.7 1393.3,549.8 1392.6,546.9 1391.8,543.9 1391.1,541 1390.4,538.1 1389.6,535.2 1388.9,532.3 1388.1,529.3 1387.4,526.4 1386.6,523.5 1385.9,520.6 1385.2,517.7 1384.4,514.7 1383.7,511.8 1382.9,508.9 1382.2,506 1381.5,503.1 1380.7,500.2 1380,497.2 1379.2,494.3 1378.5,491.4 1377.7,488.4 1376.9,485.4 1376.1,482.4 1375.3,479.4 1374.5,476.4 1373.7,473.4 1372.8,470.4 1372,467.4 1371.2,464.4 1370.4,461.4 1369.6,458.4 1368.8,455.4 1368,452.4 1367.2,449.4 1366.4,446.4 1365.6,443.4 1364.8,440.4 1364,437.4 1363.2,434.4 1362.3,431.4 1361.5,428.4 1360.7,425.4 1359.9,422.4 1359.1,419.4 1358.3,416.4 1357.5,413.4 1356.7,410.5 1355.8,407.5 1355,404.6 1354.2,401.7 1353.3,398.7 1352.5,395.8 1351.7,392.9 1350.8,389.9 1350,387 1349.2,384.1 1348.3,381.1 1347.5,378.2 1346.7,375.3 1345.8,372.3 1345,369.4 1344.2,366.5 1343.3,363.5 1342.5,360.6 1341.7,357.7 1340.8,354.7 1340,351.8 1339.2,348.9 1338.3,345.9 1337.5,343 1336.7,340.1 1335.8,337.1 1335,334.2 1334.1,331.3 1333.1,328.5 1332.2,325.6 1331.3,322.7 1330.4,319.9 1329.4,317 1328.5,314.1 1327.6,311.3 1326.6,308.4 1325.7,305.6 1324.8,302.7 1323.9,299.8 1322.9,297 1322,294.1 1321,291.1 1320.1,288.1 1319.1,285.1 1318.2,282.2 1317.2,279.2 1316.2,276.2 1315.3,273.2 1314.3,270.2 1313.3,267.2 1312.4,264.3 1311.4,261.3 1310.5,258.3 1309.5,255.3 1308.5,252.3 1307.4,249.3 1306.4,246.2 1305.3,243.2 1304.3,240.2 1304.5,236.7 1303.5,233.7 1302.5,230.7 1301.5,227.6 1300.5,224.6 1299.4,221.6 1298.4,218.6 1297.3,215.5 1296.1,212.5 1294.9,209.5 1293.7,206.6 1292.5,203.6 1291.2,200.6 1290,197.7 1288.8,194.7 1287.6,191.8 1286.4,188.8 1285.1,185.8 1283.9,182.9 1282.6,179.9 1281.4,177 1280.1,173.9 1278.4,171.2 1276.7,168.6 1275,165.9 1273.4,163.3 1271.7,160.7 1270,158.1 1268.3,155.4 1266.6,152.8 1265,150.2 1263.3,147.6 1261.6,144.9 1259.9,142.3 1258.2,139.7 1256.6,137.1 1254.7,134.3 1252.1,132 1249.7,129.9 1247.2,127.8 1244.8,125.7 1242.4,123.6 1239.9,121.5 1237.5,119.4 1235.1,117.3 1232.7,115.1 1230.4,112.8 1228.1,110.6 1225.9,108.4 1223.6,106.2 1221.4,103.9 1219.1,101.7 1216.9,99.5 1214.6,97.3 1212.2,95.3 1209.1,92.9 1205.2,91.5 1202.1,90.5 1199.6,89.7 1197.5,88.1 1194.8,86.2 1192.2,84.3 1189.5,82.4 1186.9,80.5 1183.9,78.4 1180.9,76.9 1178.2,75.5 1175.7,74.3 1173.2,72.8 1170.5,71.1 1167.9,69.5 1164.9,67.7 1161.9,65.8 1158.9,64 1155.6,62 1152.5,60.6 1149.7,59.5 1146.9,58.3 1144.4,57.3 1141.8,55.7 1139,54 1136.2,52.3 1133.4,50.6 1130,48.6 1126.7,46.6 1123.3,44.6 1120.2,42.9 1117.2,41.2 1114.5,39.8 1111.3,37.2 1108.6,35.2 1107.4,32.2 1105.9,28.9 1105.8,26 1105.7,22.1 1105.5,18.3" fill="#ff0000"/><polyline points="1101,18.5 1101.5,30 1105,38 1112,43.5 1121,48.5 1131,54.5 1142.2,61.4 1153.4,66.2 1165.5,73.5 1173.5,78.3 1181.6,82.3 1189.6,87.9 1197.6,93.6 1207,96.7 1229,114.5 1253.3,135.5 1279,174.5 1296,216 1309.5,255.3 1322,294.1 1335,334.2 1357.5,413.4 1378.5,491.4 1398.5,570.2 1419.5,649.2 1438.5,727.9 1459.5,807" fill="none" stroke="#ff0000" stroke-width="2.9" stroke-linejoin="round" stroke-linecap="round" /><g fill="#ff0000"><circle cx="1101" cy="18.6" r="5.83"/><circle cx="1101.1" cy="20.1" r="5.83"/><circle cx="1101.1" cy="21.7" r="5.83"/><circle cx="1101.2" cy="23.3" r="5.83"/><circle cx="1101.3" cy="24.9" r="5.83"/><circle cx="1101.3" cy="26.4" r="5.83"/><circle cx="1101.4" cy="28" r="5.83"/><circle cx="1101.7" cy="30.4" r="5.83"/><circle cx="1103.4" cy="34.3" r="5.83"/><circle cx="1105.4" cy="38.3" r="5.83"/><circle cx="1110.4" cy="42.2" r="5.83"/><circle cx="1116.8" cy="46.2" r="5.83"/><circle cx="1123.7" cy="50.1" r="5.83"/><circle cx="1130.3" cy="54.1" r="5.83"/><circle cx="1136.7" cy="58" r="5.83"/><circle cx="1152.7" cy="65.9" r="5.83"/><circle cx="1166" cy="73.8" r="5.83"/><circle cx="1180.3" cy="81.7" r="5.83"/><circle cx="1191.9" cy="89.6" r="5.83"/><circle cx="1207.9" cy="97.5" r="5.83"/><circle cx="1232.1" cy="117.2" r="5.83"/><circle cx="1254.2" cy="136.9" r="5.83"/><circle cx="1279.8" cy="176.4" r="5.83"/><circle cx="1295.9" cy="215.8" r="5.83"/><circle cx="1309.5" cy="255.3" r="5.83"/><circle cx="1322.2" cy="294.7" r="5.83"/><circle cx="1335" cy="334.2" r="5.83"/><circle cx="1357.4" cy="413.1" r="5.83"/><circle cx="1378.6" cy="492" r="5.83"/><circle cx="1398.7" cy="570.9" r="5.83"/><circle cx="1419.6" cy="649.8" r="5.83"/><circle cx="1438.7" cy="728.7" r="5.83"/><circle cx="1459.5" cy="807.6" r="5.83"/></g><polyline points="1100.9,18.6 1101,20.1 1101.1,21.7 1101.2,23.3 1101.2,24.9 1101.5,26.4 1102.1,28 1103.1,30.4 1107.3,34.3 1113.1,38.3 1118.7,42.2 1123.7,46.2 1128.7,50.1 1134.9,54.1 1142,58 1155,65.9 1167.2,73.8 1179.2,81.7 1189.4,89.6 1197.1,97.5 1224.3,117.2 1245.2,136.9 1276.5,176.4 1294.4,215.8 1308.5,255.3 1321.2,294.7 1333,334.2 1356.5,413.1 1378,492 1400.1,570.9 1419.4,649.8 1438.2,728.7 1458.7,807.6" fill="none" stroke="#008000" stroke-width="2.9" stroke-linejoin="round" stroke-linecap="round" /><g fill="#008000"><circle cx="1100.9" cy="18.6" r="5.83"/><circle cx="1101" cy="20.1" r="5.83"/><circle cx="1101.1" cy="21.7" r="5.83"/><circle cx="1101.2" cy="23.3" r="5.83"/><circle cx="1101.2" cy="24.9" r="5.83"/><circle cx="1101.5" cy="26.4" r="5.83"/><circle cx="1102.1" cy="28" r="5.83"/><circle cx="1103.1" cy="30.4" r="5.83"/><circle cx="1107.3" cy="34.3" r="5.83"/><circle cx="1113.1" cy="38.3" r="5.83"/><circle cx="1118.7" cy="42.2" r="5.83"/><circle cx="1123.7" cy="46.2" r="5.83"/><circle cx="1128.7" cy="50.1" r="5.83"/><circle cx="1134.9" cy="54.1" r="5.83"/><circle cx="1142" cy="58" r="5.83"/><circle cx="1155" cy="65.9" r="5.83"/><circle cx="1167.2" cy="73.8" r="5.83"/><circle cx="1179.2" cy="81.7" r="5.83"/><circle cx="1189.4" cy="89.6" r="5.83"/><circle cx="1197.1" cy="97.5" r="5.83"/><circle cx="1224.3" cy="117.2" r="5.83"/><circle cx="1245.2" cy="136.9" r="5.83"/><circle cx="1276.5" cy="176.4" r="5.83"/><circle cx="1294.4" cy="215.8" r="5.83"/><circle cx="1308.5" cy="255.3" r="5.83"/><circle cx="1321.2" cy="294.7" r="5.83"/><circle cx="1333" cy="334.2" r="5.83"/><circle cx="1356.5" cy="413.1" r="5.83"/><circle cx="1378" cy="492" r="5.83"/><circle cx="1400.1" cy="570.9" r="5.83"/><circle cx="1419.4" cy="649.8" r="5.83"/><circle cx="1438.2" cy="728.7" r="5.83"/><circle cx="1458.7" cy="807.6" r="5.83"/></g><polyline points="1097.9,18.9 1097.9,19.8 1098,20.7 1098.1,21.6 1098.3,22.6 1098.5,23.6 1098.8,24.8 1099.2,26.1 1099.7,27.6 1100.4,29.2 1101.3,31 1102.4,33.2 1108,35.6 1114,38.4 1117,41.8 1119.5,45.7 1122.5,50.4 1128.5,56 1135.2,62.6 1148.7,70 1168.6,80.2 1184.6,91.1 1201.3,105.2 1224.3,121.1 1249.4,141.1 1270.6,164.8 1284.5,194.5 1297.6,228.6 1312.4,269.4 1327.4,318.5 1344.3,376.4 1364.4,445.4 1385.3,526.3 1411.4,620.7 1440.2,730.1" fill="none" stroke="#ff00ff" stroke-width="2.9" stroke-linejoin="round" stroke-linecap="round" /><g fill="#ff00ff"><circle cx="1097.9" cy="18.9" r="5.83"/><circle cx="1097.9" cy="19.8" r="5.83"/><circle cx="1098" cy="20.7" r="5.83"/><circle cx="1098.1" cy="21.6" r="5.83"/><circle cx="1098.3" cy="22.6" r="5.83"/><circle cx="1098.5" cy="23.6" r="5.83"/><circle cx="1098.8" cy="24.8" r="5.83"/><circle cx="1099.2" cy="26.1" r="5.83"/><circle cx="1099.7" cy="27.6" r="5.83"/><circle cx="1100.4" cy="29.2" r="5.83"/><circle cx="1101.3" cy="31" r="5.83"/><circle cx="1102.4" cy="33.2" r="5.83"/><circle cx="1108" cy="35.6" r="5.83"/><circle cx="1114" cy="38.4" r="5.83"/><circle cx="1117" cy="41.8" r="5.83"/><circle cx="1119.5" cy="45.7" r="5.83"/><circle cx="1122.5" cy="50.4" r="5.83"/><circle cx="1128.5" cy="56" r="5.83"/><circle cx="1135.2" cy="62.6" r="5.83"/><circle cx="1148.7" cy="70" r="5.83"/><circle cx="1168.6" cy="80.2" r="5.83"/><circle cx="1184.6" cy="91.1" r="5.83"/><circle cx="1201.3" cy="105.2" r="5.83"/><circle cx="1224.3" cy="121.1" r="5.83"/><circle cx="1249.4" cy="141.1" r="5.83"/><circle cx="1270.6" cy="164.8" r="5.83"/><circle cx="1284.5" cy="194.5" r="5.83"/><circle cx="1297.6" cy="228.6" r="5.83"/><circle cx="1312.4" cy="269.4" r="5.83"/><circle cx="1327.4" cy="318.5" r="5.83"/><circle cx="1344.3" cy="376.4" r="5.83"/><circle cx="1364.4" cy="445.4" r="5.83"/><circle cx="1385.3" cy="526.3" r="5.83"/><circle cx="1411.4" cy="620.7" r="5.83"/><circle cx="1440.2" cy="730.1" r="5.83"/></g>
</g>
<path d="M1106.9 814.3v5.83M1176.1 814.3v5.83M1245.3 814.3v5.83M1314.5 814.3v5.83M1383.7 814.3v5.83M1452.9 814.3v5.83M1078.6 19.2h-5.83M1078.6 97.5h-5.83M1078.6 176.4h-5.83M1078.6 255.3h-5.83M1078.6 334.2h-5.83M1078.6 413.1h-5.83M1078.6 492h-5.83M1078.6 570.9h-5.83M1078.6 649.8h-5.83M1078.6 728.7h-5.83M1078.6 807.6h-5.83" stroke="#000" stroke-width="1.33" fill="none"/><rect x="1078.6" y="19.2" width="398" height="795.1" fill="none" stroke="#000" stroke-width="1.33"/><text transform="translate(1105.7,850.4) rotate(-45)" x="0" y="6.2" font-size="17.1" text-anchor="middle">1022</text><text transform="translate(1174.9,850.4) rotate(-45)" x="0" y="6.2" font-size="17.1" text-anchor="middle">1024</text><text transform="translate(1244.1,850.4) rotate(-45)" x="0" y="6.2" font-size="17.1" text-anchor="middle">1026</text><text transform="translate(1313.3,850.4) rotate(-45)" x="0" y="6.2" font-size="17.1" text-anchor="middle">1028</text><text transform="translate(1382.5,850.4) rotate(-45)" x="0" y="6.2" font-size="17.1" text-anchor="middle">1030</text><text transform="translate(1451.7,850.4) rotate(-45)" x="0" y="6.2" font-size="17.1" text-anchor="middle">1032</text>
</g>
<g id="info"><text x="1528.4" y="36.7" font-size="23.2" font-weight="bold" text-anchor="start" textLength="380.2" lengthAdjust="spacing" fill="#000" >Comparison Date: 2025-09-19</text><text x="1528.4" y="89.9" font-size="23.2" font-weight="bold" text-anchor="start" textLength="169.9" lengthAdjust="spacing" fill="#000" >Glider: sg665</text><text x="1528.4" y="116.5" font-size="23.2" font-weight="bold" text-anchor="start" textLength="128.8" lengthAdjust="spacing" fill="#000" >Profiles: 7</text><text x="1528.4" y="143.1" font-size="23.2" font-weight="bold" text-anchor="start" textLength="340.4" lengthAdjust="spacing" fill="#000" >First: 2025-09-19 00:51:25</text><text x="1528.4" y="169.7" font-size="23.2" font-weight="bold" text-anchor="start" textLength="335.9" lengthAdjust="spacing" fill="#000" >Last: 2025-09-19 23:11:50</text><text x="1528.4" y="196.3" font-size="23.2" font-weight="bold" text-anchor="start" textLength="339.8" lengthAdjust="spacing" fill="#000" >Method: Nearest-Neighbor</text></g>
<g id="map"><defs><clipPath id="cm"><rect x="1568.3" y="307" width="398.2" height="218.8"/></clipPath></defs>
<rect x="1568.3" y="307" width="398.2" height="218.8" fill="#97b6e1"/>
<g clip-path="url(#cm)">
<polygon points="1555,336 1557.2,335.9 1559.4,335.9 1561.6,335.8 1563.8,335.7 1565.9,335.7 1568.1,335.6 1570.2,335 1573.2,333.6 1575.9,332.9 1578,332.8 1580.3,332.6 1582.8,333.3 1584.4,332.8 1587.6,333.6 1589.5,334.1 1591.9,332.7 1593.6,332.6 1595.3,333.8 1597.1,334.6 1597.1,337.4 1597.6,339.2 1597.1,340.9 1595.6,343.7 1593.7,345.5 1593.4,347 1591.5,348.8 1590.2,350.8 1589.5,352.9 1588.4,354.6 1588.4,357 1588,359 1587.9,360.7 1588.5,363.1 1587.5,365.1 1586.9,366.6 1586.4,369.2 1586.1,371.3 1585.1,372.9 1584.8,375.7 1583.4,377.3 1582.3,379.5 1582.3,382.3 1581.4,384.4 1581.2,386.7 1580.4,389.4 1579.3,391.6 1578.8,390 1578.1,392.1 1578.3,394.5 1577.3,396.1 1576.3,398.8 1575.3,401.2 1573.5,402.6 1573.2,404.5 1571.7,406.3 1569.8,407.9 1568.6,409.3 1571.2,410.8 1573.2,411.9 1575.4,411.3 1578,411.2 1580.3,410.3 1582.7,410 1585.1,409.4 1587.5,409.8 1589,410.4 1592.1,410.6 1593.6,410.9 1595.8,410.6 1598.3,411.8 1600.7,411.4 1603.4,410.9 1605.9,410 1607.8,409.8 1610.4,410.6 1612.9,410.3 1615.4,410 1617.4,409.7 1620,409.3 1622.6,409.2 1624.4,410.7 1626.1,410.9 1629.1,412.4 1631.2,413.4 1633.2,416.4 1636.2,417.5 1638.3,418.5 1640.9,419.9 1643.4,421.5 1642.1,424 1641.9,425.6 1642.2,427.8 1642.4,430.7 1641.4,432.7 1640.4,434.8 1639.7,436.6 1639.4,439 1638.8,440.9 1639.1,442.8 1638.6,444.6 1639.3,447 1637.9,449.1 1637.3,451 1637,453.9 1635.8,456.1 1636.7,459 1636.8,461.2 1634.8,464.3 1635,466.7 1635.8,468.3 1635.2,469.9 1634.3,472.6 1635.2,474 1637.3,476.6 1639,478.4 1639.6,480.8 1641.4,482.7 1642.9,484.2 1644.4,486.8 1646.5,488.8 1647.8,489.9 1650.1,491.5 1651.6,492.9 1653.4,494.2 1655.1,495.5 1657.7,497 1659.3,497.8 1660.6,499.8 1662.7,500.5 1664.8,500.9 1666.8,502.1 1669.5,501.9 1671.9,501 1673.4,499.6 1675.5,499.6 1678,498.5 1679.6,497.9 1682.3,496.9 1684.1,496 1685.3,495 1687.2,492.9 1690.2,491.9 1692.6,492 1693.9,492.3 1696.2,492.3 1698.1,492.4 1700.3,492.4 1701.9,493.3 1705,495.1 1706.2,496.3 1708.5,497 1710,499 1712.3,499.9 1713.5,501 1715.6,503.1 1717.8,504.2 1719.4,507 1720.7,508.2 1722.3,509.5 1723.7,511.7 1723.8,510.1 1723.3,507.3 1722.7,505.1 1724.6,503.6 1726.4,502.6 1728.8,501 1730.3,499.1 1731.4,498.2 1733.2,496.5 1734.9,494.9 1737.3,493.9 1740,491.9 1740.2,488.9 1739,486.9 1739,484.8 1741.1,483.1 1742.1,480.7 1743.2,478.7 1745,477.7 1746.1,475.6 1748.7,473.9 1750.2,472.6 1753.2,474.3 1755.3,475.6 1756.3,473.6 1757.3,470.5 1759,470.5 1761.4,470 1762.9,469.5 1765.9,469.4 1767.8,469.7 1769.5,469.5 1771.7,468.2 1772.9,467 1775.3,466.2 1776.6,464.9 1779.6,464.4 1781,463 1783.8,461.9 1784.8,458.3 1786.3,456.6 1788.3,456.4 1790.9,454.8 1793.3,455.8 1794.8,456.2 1797,456.8 1798,460.3 1796.3,461.6 1794,462.7 1791.9,464.4 1788.9,465.4 1786.8,467 1788.3,469.3 1788.9,471.5 1790.6,473.3 1791.4,475.1 1793.9,474.7 1797,473.6 1799.4,472.2 1801.3,471.5 1802.6,471.6 1804.6,470 1807.2,469.5 1809.2,467 1809.3,464.6 1808.2,462.4 1808.7,460.2 1810.2,458.8 1811.9,459.6 1814.3,459.8 1814.6,462.6 1815.8,464.4 1815.3,467 1817.5,467.5 1820.5,466.7 1822.4,467 1824.5,467.8 1826.7,468.8 1829.5,469.5 1831,470.9 1833.6,473.6 1834.9,475.4 1835.1,477.6 1835.6,479.7 1837.6,479.7 1840,480.7 1840.3,480.7 1842.9,480.8 1845,479.4 1846.1,479.6 1849.1,479.1 1850.5,478.7 1852.8,478.9 1854.3,478.7 1856.4,478.4 1858.2,478.4 1860.7,478.7 1862.6,480.1 1863.6,481.9 1864.8,483.2 1867.3,483.6 1868.6,484 1870.6,485.2 1873.4,485 1874.9,485.8 1876.8,485.2 1879.1,484.5 1881,483.7 1882.4,482 1884.1,480.9 1886.1,480.2 1888.7,479.4 1891.2,479.7 1892.7,479.2 1895,478.7 1897.3,477.6 1899.7,478 1901.6,477.5 1904.4,477.4 1907,476.9 1909.3,476.9 1911.3,477.8 1913.5,476.9 1914.8,477.1 1917.9,476.7 1920,476.5 1921.7,476.8 1922.2,478.5 1920.7,478.1 1917.9,479.3 1916.5,479.5 1914.5,479.5 1912.3,479 1909.9,479.1 1908.3,479.9 1906,479.9 1907.5,480.5 1910.2,482.6 1911.5,483.5 1913.7,484.5 1915.1,485.8 1917.7,488.6 1919.9,489.5 1922.1,490.2 1924.8,491.9 1926.3,493.5 1927.6,494.7 1928.9,497 1928.8,498.6 1928.7,500.7 1929.4,503.1 1931.5,504 1932.9,505.1 1935.3,505.2 1938,505.1 1940.2,505.8 1943.1,507.7 1945.2,509 1947.3,510.4 1949.4,512.1 1951.2,513.2 1952.4,514.8 1954.3,516 1955.7,517.9 1957.3,519.3 1959,522.2 1959.4,524.3 1960.9,526.5 1960.9,528.7 1960.9,530.9 1960.9,533.2 1960.9,535.4 1960.9,537.7 1958.9,537.7 1956.9,537.7 1954.9,537.7 1952.9,537.7 1950.9,537.7 1948.9,537.7 1946.9,537.7 1944.9,537.7 1942.9,537.7 1940.9,537.7 1938.9,537.7 1936.9,537.7 1934.9,537.7 1932.9,537.7 1930.9,537.7 1928.9,537.7 1926.9,537.7 1924.9,537.7 1922.8,537.7 1920.8,537.7 1918.8,537.7 1916.8,537.7 1914.8,537.7 1912.8,537.7 1910.8,537.7 1908.8,537.7 1906.8,537.7 1904.8,537.7 1902.8,537.7 1900.8,537.7 1898.8,537.7 1896.8,537.7 1894.8,537.7 1892.8,537.7 1890.8,537.7 1888.8,537.7 1886.8,537.7 1884.8,537.7 1882.8,537.7 1880.8,537.7 1878.8,537.7 1876.8,537.7 1874.8,537.7 1872.8,537.7 1870.8,537.7 1868.8,537.7 1866.8,537.7 1864.8,537.7 1862.8,537.7 1860.8,537.7 1858.8,537.7 1856.8,537.7 1854.8,537.7 1852.8,537.7 1850.8,537.7 1848.8,537.7 1846.8,537.7 1844.8,537.7 1842.7,537.7 1840.7,537.7 1838.7,537.7 1836.7,537.7 1834.7,537.7 1832.7,537.7 1830.7,537.7 1828.7,537.7 1826.7,537.7 1824.7,537.7 1822.7,537.7 1820.7,537.7 1818.7,537.7 1816.7,537.7 1814.7,537.7 1812.7,537.7 1810.7,537.7 1808.7,537.7 1806.7,537.7 1804.7,537.7 1802.7,537.7 1800.7,537.7 1798.7,537.7 1796.7,537.7 1794.7,537.7 1792.7,537.7 1790.7,537.7 1788.7,537.7 1786.7,537.7 1784.7,537.7 1782.7,537.7 1780.7,537.7 1778.7,537.7 1776.7,537.7 1774.7,537.7 1772.7,537.7 1770.7,537.7 1768.7,537.7 1766.7,537.7 1764.7,537.7 1762.6,537.7 1760.6,537.7 1758.6,537.7 1756.6,537.7 1754.6,537.7 1752.6,537.7 1750.6,537.7 1748.6,537.7 1746.6,537.7 1744.6,537.7 1742.6,537.7 1740.6,537.7 1738.6,537.7 1736.6,537.7 1734.6,537.7 1732.6,537.7 1730.6,537.7 1728.6,537.7 1726.6,537.7 1724.6,537.7 1722.6,537.7 1720.6,537.7 1718.6,537.7 1716.6,537.7 1714.6,537.7 1714.6,535.3 1714.6,533 1714.6,530.6 1714.6,528.3 1714.6,526 1712,523.7 1710.5,522.4 1709.2,521.2 1707.4,519.3 1706.4,517.3 1705.9,515.1 1704.6,513.7 1703.4,511.2 1703.8,508.9 1704.4,506.1 1702.7,504.2 1700.3,502.1 1698.2,501.5 1695.3,500 1693.3,500.6 1690.2,501 1687.7,502.8 1686.1,505.1 1684.1,507.1 1681.7,508.2 1680.3,508.6 1678,510.2 1679.8,512 1681.1,513.2 1682.1,515.1 1683,517.3 1684.6,518.8 1681.9,520.6 1680.6,521.4 1678,522.4 1675.7,523.1 1674.5,522.3 1671.9,522.9 1672,520.5 1671.4,517.3 1669.4,514.3 1667,514.2 1664.2,514.2 1661.7,513.4 1659.7,510.2 1657.7,509.5 1654.6,509.2 1652.4,509.1 1649.5,509.2 1647.6,510.5 1646.5,512.2 1645,510.2 1644.4,507.1 1643,506.3 1640.5,506.4 1638.3,506.1 1635.8,504.1 1637.3,501 1635.3,498 1633.1,496.4 1631.6,495.6 1630.2,493.9 1627.1,492 1625.1,490.9 1623.5,488.8 1622.1,487.8 1621,489.8 1618.5,492.9 1618,490.9 1615.6,490 1612.9,488.8 1611.8,487 1609.8,485.8 1608.8,483.8 1608.3,481.7 1610.9,478.7 1610.1,476.7 1609.8,474.6 1609.8,472.9 1607.9,471.6 1606.8,470.2 1604.8,468.3 1603.6,466.7 1601.4,465.4 1599.7,463.2 1598.6,461.3 1596.8,458.9 1595.6,457.1 1593.4,455.8 1591.8,454 1590.5,452.1 1588,451.1 1585.4,449 1584.7,447.8 1583.4,445.4 1580.9,445.4 1579.4,445.2 1577.3,445.3 1575.3,445.4 1572.9,444.3 1570.4,444.4 1568.1,443.9 1565.9,443.8 1563.7,443.7 1561.5,443.7 1559.3,443.6 1557.1,443.5 1554.9,443.4 1554.9,441.4 1554.9,439.4 1554.9,437.3 1554.9,435.3 1554.9,433.3 1554.9,431.2 1554.9,429.2 1554.9,427.2 1554.9,425.2 1554.9,423.1 1554.9,421.1 1554.9,419.1 1554.9,417.1 1554.9,415 1554.9,413 1554.9,411 1554.9,409 1554.9,406.9 1554.9,404.9 1554.9,402.9 1554.9,400.9 1554.9,398.8 1555,396.8 1555,394.8 1555,392.7 1555,390.7 1555,388.7 1555,386.7 1555,384.6 1555,382.6 1555,380.6 1555,378.6 1555,376.5 1555,374.5 1555,372.5 1555,370.5 1555,368.4 1555,366.4 1555,364.4 1555,362.3 1555,360.3 1555,358.3 1555,356.3 1555,354.2 1555,352.2 1555,350.2 1555,348.2 1555,346.1 1555,344.1 1555,342.1 1555,340.1 1555,338" fill="#d2b48c" stroke="#000" stroke-width="2.7" stroke-linejoin="round"/>
<polygon points="1620,329.5 1622.1,328.4 1624.2,327.2 1626.1,326.4 1626.9,324.4 1627.1,321.9 1629.3,320.1 1631.2,318.7 1633.2,317.3 1635.1,316.8 1637.7,315.1 1639.6,314.7 1641.4,313.7 1643.3,313.2 1645.6,312.9 1647.6,312.6 1649.2,312.3 1651.6,311.7 1654.5,311.6 1656.6,310.7 1658.8,310.4 1660.3,310.6 1663.1,310.8 1664.7,311.4 1666.8,311.2 1669.2,310.7 1671.9,310.2 1673.9,310.4 1676,311.7 1677.7,311.8 1680,312.2 1682.1,313.2 1684.1,314.6 1686.3,315.5 1688.5,316.4 1690.2,317.8 1692.2,318.2 1694.2,318.5 1696.3,319 1697.8,320.1 1700,320.3 1702.4,320.8 1704,321.2 1706.1,321.9 1708.5,323.2 1711.2,324.4 1712.3,325.6 1713.9,327.2 1715.3,329 1717.1,330.9 1718.9,332.4 1720.3,334.1 1722.3,335 1724,336.3 1726.4,337.1 1728.7,337.8 1730.9,338.6 1733.6,339.5 1735.7,339.5 1737.9,339.9 1739.7,339.9 1740.7,342.7 1738.7,344.8 1740.8,345 1743.7,345.1 1745.8,345.3 1748.2,345.8 1750.5,346.9 1752.9,347.8 1755,348.9 1757.4,350.2 1759.5,351.4 1757.2,352.6 1754.9,354.4 1752.5,355.1 1750.1,354.7 1747.8,355.4 1745,355.3 1742.7,354.8 1740.7,354.9 1738.3,355 1737,355.1 1734.6,355.2 1732.6,355.3 1730.5,355.4 1728.7,355.9 1726.6,355.6 1724.5,356.1 1722.1,355.6 1720.3,356 1718.1,356.4 1715.7,356.7 1713.2,357 1712.7,355.4 1715.3,354.2 1717.3,352.9 1719.1,351.2 1720.3,348.8 1719.3,346.3 1717.1,346.2 1715.1,345.8 1712.4,345.5 1710.6,344.8 1708.8,344.1 1706.9,342.6 1704.5,341.7 1703.6,339.4 1702.4,337.6 1700.5,335.9 1698.4,333.6 1696.1,333.2 1693.9,332.8 1692,332.5 1690.2,332.6 1688.6,332.4 1686.1,331.7 1684.3,331 1682.1,330.5 1679.6,329.5 1677.4,328 1675,327 1672.5,326.4 1670.3,325.4 1667.8,324.9 1665.9,325.1 1664.1,324.7 1661.7,324.4 1659.4,323.6 1657.7,322.9 1659.9,321.8 1662.7,321.4 1661.7,319.3 1659.5,319 1657.9,318.8 1655.6,318.3 1653.1,318.6 1650.9,318.7 1648.5,318.8 1645.8,320.3 1643.4,321.9 1641.3,323.1 1639.3,323.9 1637.3,324.9 1635.3,325.6 1633.4,326.5 1631.2,327 1628.9,328.4 1626.1,330 1624.3,330.2 1622.4,329.8" fill="#d2b48c" stroke="#000" stroke-width="2.7" stroke-linejoin="round"/>
<polygon points="1704.6,377.3 1706.4,376.5 1708.6,375.6 1710.2,374.8 1712.2,375 1714,375 1716.4,375.4 1718.3,375.3 1720.4,375.8 1722.7,376.9 1725.4,377.3 1728.1,378 1730.5,379.3 1732.6,382.4 1730.9,383.5 1728.5,383.9 1726.1,383.8 1723.4,383.4 1720.3,386 1718,384.8 1716.3,384.4 1713.8,383.3 1711.2,382.9 1708.9,381.2 1707.1,379.9" fill="#d2b48c" stroke="#000" stroke-width="2.7" stroke-linejoin="round"/>
<polygon points="1767.7,358 1769.4,356.8 1771.2,355.4 1773.6,354.4 1775.8,353.9 1777.3,354.8 1779.3,356.2 1781.4,357 1783.9,357 1786.2,357.1 1788.5,357 1790.3,356.6 1792.3,356.6 1794.6,356 1796.6,356 1799,355.8 1801.7,355.4 1803.6,356.2 1806.1,356.8 1807.8,358 1810,358.8 1812.9,359 1814.5,360.7 1816,363.1 1818.4,363.6 1819.7,363.3 1822.1,363.6 1823.6,367.1 1825.2,368 1827.4,368.9 1829.2,370.2 1831.4,371.4 1833.3,373.2 1832.5,375.5 1832.2,377.3 1829.2,379.9 1826.6,379 1824.1,378.3 1821.8,378 1819.3,377.3 1817,377.3 1814.6,377.4 1811.9,376.8 1810.2,378 1807.8,378.8 1805.7,378 1803.8,377.3 1801.9,378 1799.7,378.3 1797.9,380.2 1796.6,382.4 1795,385 1793.6,387.5 1791.6,388.5 1791.3,386.5 1790.5,384.4 1789.1,382.7 1788.5,380.4 1785.9,379.6 1783.4,378.8 1781.2,378.6 1779.3,378.7 1777.3,378.3 1775,378.9 1773,379.5 1771.2,379.9 1768.8,380.2 1767,381 1765.1,381.4 1762.7,380.8 1761,380.4 1758.8,379.2 1757,378.3 1754.4,375.8 1755.4,373.2 1758.2,373.4 1761,372.7 1763.1,373.4 1764.8,373.6 1767,373.3 1769.2,373.8 1771.7,374.3 1773.5,373.9 1776.3,374.3 1779.1,373.6 1781.4,373.2 1780.4,370.2 1778.6,367.8 1777.3,366.1 1776.4,364.2 1776.3,362.1 1773.2,360 1771.6,360.2 1769.2,359.5" fill="#d2b48c" stroke="#000" stroke-width="2.7" stroke-linejoin="round"/>
<polygon points="1847,375.6 1848.9,375.7 1851.3,375.8 1853,375.2 1855,375.2 1857.6,375 1859.5,375 1861.4,375.2 1864,375.2 1865.8,375.1 1866.8,377.1 1865.9,379.2 1865.8,381.7 1863.2,382.4 1861.4,382.7 1859.2,383 1856.6,383.2 1854.7,383.5 1851.9,383.5 1849.7,383.4 1847.5,383.2 1847.3,380.6 1847,378.1" fill="#d2b48c" stroke="#000" stroke-width="2.7" stroke-linejoin="round"/>
<polygon points="1921.7,478.5 1923.4,478.2 1925.9,478 1927.8,477.2 1927.7,479.2 1928.1,481.6 1927.8,483.8 1928,485.8 1925.3,486.2 1922.5,485.9 1920.2,486.3 1918.2,486.3 1915.6,486.6 1918.1,486.2 1920.9,485.3 1921.2,482.7 1921.3,480.7" fill="#d2b48c" stroke="#000" stroke-width="2.7" stroke-linejoin="round"/>
<polygon points="1643.4,330.5 1647.5,329.5 1651,330.5 1651.6,333.6 1648.5,335.6 1644.4,335.1 1642.9,333.1" fill="#d2b48c" stroke="#000" stroke-width="2.0" stroke-linejoin="round"/>
<polygon points="1764.1,340.2 1767.1,338.1 1771.2,337.6 1774.3,334.1 1775.3,336.6 1773.2,340.7 1769.2,342.2 1765.1,342.2" fill="#d2b48c" stroke="#000" stroke-width="2.0" stroke-linejoin="round"/>
<polygon points="1770.2,369 1775.9,370.1 1776.3,371.9 1770.8,370.5" fill="#000" stroke="#000" stroke-width="2.0" stroke-linejoin="round"/>
<polygon points="1884.1,474.2 1886.6,473.1 1889.2,474.2 1891.8,472.6 1892,474.8 1888.6,475.9 1884.7,475.1" fill="#000" stroke="#000" stroke-width="2.0" stroke-linejoin="round"/>
<polygon points="1917.4,404.3 1919.9,403.3 1921.2,401.7 1925,404.7 1920.6,405.7 1919.9,409 1918,407.7" fill="#000" stroke="#000" stroke-width="2.0" stroke-linejoin="round"/>
<polygon points="1791.4,475.1 1791.7,477.8 1791.9,480.7 1793.3,482.5 1795.1,483.9 1797,485.8 1797.9,488.4 1799,490.9 1798.8,493.4 1798,496 1796.3,497.8 1793.9,499 1791.7,498.5 1789.9,498.5 1788.6,496.8 1787.9,495 1786.8,492.9 1786.1,491 1784.8,488.8 1786.3,486.5 1787.8,484.8 1789,482.9 1790.7,480.7 1790.7,478.1 1790.5,475.1" fill="#97b6e1" stroke="#000" stroke-width="2.0" stroke-linejoin="round"/>
<polygon points="1600.7,455.6 1604.8,456.6 1610.9,461.2 1617,466.3 1623.1,471.4 1620,471.6 1614.9,470.6 1609.8,466.5 1606.8,461.4 1602.7,458.4" fill="#b3bac4" stroke="#b3bac4" stroke-width="0.6" stroke-linejoin="round"/>
<polygon points="1599.2,455.1 1603.2,455.1 1603.9,456.9 1600.2,457.1" fill="#b3bac4" stroke="#b3bac4" stroke-width="0.5" stroke-linejoin="round"/>
<polyline points="1750.2,472.6 1751.2,478.7 1749.2,484.8 1750.2,490.9 1754.3,496 1761.4,500 1763.9,505.1 1762.4,513.2 1761.4,527.5" fill="none" stroke="#9fbfe8" stroke-width="1.5" stroke-linejoin="round"/>
<polyline points="1849.5,526 1858.7,518.3 1868.8,514.3 1878,516.8 1883.1,512.7 1889.2,512.4 1901.4,509.2 1911.6,505.1 1914.1,503.7 1919.7,505.1 1925.8,501" fill="none" stroke="#9fbfe8" stroke-width="1.5" stroke-linejoin="round"/>
<polyline points="1914.1,503.7 1914.1,501 1911.6,497 1909.5,490.9" fill="none" stroke="#9fbfe8" stroke-width="1.5" stroke-linejoin="round"/>
<polyline points="1914.1,499.5 1917.7,494.9 1918.2,491.9" fill="none" stroke="#9fbfe8" stroke-width="1.5" stroke-linejoin="round"/>
<polyline points="1597.6,440.9 1601.7,439.3 1604.8,441.9 1608.8,440.9 1610.4,437.3 1614.9,430.7 1620,425.1 1625.1,426.1 1631.2,425.1 1637.3,422.6 1642.4,422" fill="none" stroke="#9fbfe8" stroke-width="1.5" stroke-linejoin="round"/>
<polyline points="1603.7,456.6 1610.9,461.2 1621,470.4 1629.2,476 1635.3,477.5" fill="none" stroke="#9fbfe8" stroke-width="1.5" stroke-linejoin="round"/>
<polyline points="1683.6,495.4 1687.2,499 1690.2,501" fill="none" stroke="#9fbfe8" stroke-width="1.5" stroke-linejoin="round"/>
<polyline points="1568.1,381.4 1570.2,382.4 1572.7,380.9" fill="none" stroke="#000" stroke-width="1.9" stroke-dasharray="4.8 2.4" stroke-linejoin="round"/>
<polyline points="1568.6,419.5 1573.2,415.4 1577.3,411.9" fill="none" stroke="#000" stroke-width="1.9" stroke-dasharray="4.8 2.4" stroke-linejoin="round"/>
<polyline points="1568.6,430.7 1573.2,434.8 1580.3,436.3 1584.4,438.8 1585.4,441.9" fill="none" stroke="#000" stroke-width="1.9" stroke-dasharray="4.8 2.4" stroke-linejoin="round"/>
<polyline points="1591.5,448 1595.6,447 1597.1,440.9 1602.7,437.8 1609.8,435.8 1614.9,430.7 1620,425.1 1625.1,426.1 1631.2,425.1 1637.3,422.6 1642.4,422" fill="none" stroke="#000" stroke-width="1.9" stroke-dasharray="4.8 2.4" stroke-linejoin="round"/>
<polyline points="1610.9,471.4 1617,473.4 1623.1,473.9 1629.2,476.5 1635.3,477.5" fill="none" stroke="#000" stroke-width="1.9" stroke-dasharray="4.8 2.4" stroke-linejoin="round"/>
<polyline points="1646.5,492.9 1645.5,497 1648.5,500 1646.5,505.1" fill="none" stroke="#000" stroke-width="1.9" stroke-dasharray="4.8 2.4" stroke-linejoin="round"/>
<polyline points="1720.7,510.2 1717.6,515.3 1712.6,518.3" fill="none" stroke="#000" stroke-width="1.9" stroke-dasharray="4.8 2.4" stroke-linejoin="round"/>
<polyline points="1784.8,468.5 1777.7,474.6 1774.6,482.7 1772.6,490.9 1769.5,495.4 1774.6,498 1777.7,503.1 1780.7,510.2 1780.2,517.3 1782.7,521.4 1787.8,524.4 1802.1,523.9 1807.2,525.5" fill="none" stroke="#000" stroke-width="1.9" stroke-dasharray="4.8 2.4" stroke-linejoin="round"/>
<polyline points="1942.1,508.2 1936,514.3 1930.9,519.3 1931.9,522.9 1936,523.9" fill="none" stroke="#000" stroke-width="1.9" stroke-dasharray="4.8 2.4" stroke-linejoin="round"/>
<polyline points="1789.5,358 1790,365.1 1789,370.2 1787.5,374.3 1789.5,377.3" fill="none" stroke="#000" stroke-width="1.9" stroke-dasharray="4.8 2.4" stroke-linejoin="round"/>
<polyline points="1666.8,310.5 1669.5,309.7 1671.9,309.9 1673.7,310.1 1676.2,311.1 1678.4,311.1 1680,311.6 1682.1,312.6 1683.8,313.7 1685.7,314.4 1688.3,315.9 1690.2,316.9 1692.3,317.7 1695.3,317.8 1697.3,319 1699.7,319.7 1701.2,319.7 1703.9,320.3 1705.1,320.6 1707.5,321.5 1709.6,322.8 1711.4,324.2 1712.9,325.7 1714.6,326.4 1715.3,327.3 1716.8,329.1 1719,330.9 1720.3,332.6" fill="none" stroke="#000" stroke-width="4.2" stroke-linecap="round" stroke-linejoin="round"/>
<polyline points="1690.2,339.2 1693,340 1694.5,342 1697.3,342.7 1699.4,343.4 1702.2,344.7 1704.5,346 1706.9,346.5 1709,347.3 1710.7,348.7 1712.6,349" fill="none" stroke="#000" stroke-width="2.2" stroke-linecap="round" stroke-linejoin="round"/>
<polyline points="1651.6,331.7 1654,332.2 1655.9,332.7 1657.4,332.7 1660.1,333.3 1661.7,333.2 1664.1,332.7 1666.2,333.4 1668.2,332.5 1670.9,332.6" fill="none" stroke="#000" stroke-width="2.0" stroke-linecap="round" stroke-linejoin="round"/>
<polyline points="1644.4,323.9 1646.9,324.9 1648.5,325.4 1650.3,327.4 1651.6,328.5" fill="none" stroke="#000" stroke-width="2.0" stroke-linecap="round" stroke-linejoin="round"/>
<polyline points="1584.4,357 1585.9,358.9 1587.5,360 1586.2,362.3 1585.9,365.1" fill="none" stroke="#000" stroke-width="4.0" stroke-linecap="round" stroke-linejoin="round"/>
<polyline points="1575.3,371.2 1577.1,371.9 1578.9,372.4 1581.4,373.2 1580.3,374.8 1579.8,376.9 1579.3,379.3" fill="none" stroke="#000" stroke-width="4.5" stroke-linecap="round" stroke-linejoin="round"/>
<polyline points="1580.3,386.5 1581.4,389 1582.9,391.6 1581.4,395" fill="none" stroke="#000" stroke-width="4.5" stroke-linecap="round" stroke-linejoin="round"/>
<polyline points="1580.3,390 1581.6,391.5 1583.4,393.1" fill="none" stroke="#000" stroke-width="4.5" stroke-linecap="round" stroke-linejoin="round"/>
<polyline points="1594.1,347.3 1596.6,348.8" fill="none" stroke="#000" stroke-width="4.0" stroke-linecap="round" stroke-linejoin="round"/>
<polyline points="1584.4,442.9 1585.9,444.3 1587.6,445.9 1589.5,447" fill="none" stroke="#000" stroke-width="6.0" stroke-linecap="round" stroke-linejoin="round"/>
<polyline points="1631.2,415.9 1633.3,416.9 1635.5,417.7 1637.3,418" fill="none" stroke="#000" stroke-width="3.5" stroke-linecap="round" stroke-linejoin="round"/>
<polyline points="1636.3,451 1636.7,452.9 1636.5,455.3 1637.3,457.1" fill="none" stroke="#000" stroke-width="3.0" stroke-linecap="round" stroke-linejoin="round"/>
<polyline points="1652.1,494.9 1654.3,497.1 1656.6,498.5 1658.5,499 1661.2,500" fill="none" stroke="#000" stroke-width="4.0" stroke-linecap="round" stroke-linejoin="round"/>
<polyline points="1616,484.3 1618.5,486.2 1621,487.3 1623.6,488.8" fill="none" stroke="#000" stroke-width="4.0" stroke-linecap="round" stroke-linejoin="round"/>
<polyline points="1607.8,475.1 1609.8,476.6" fill="none" stroke="#000" stroke-width="3.0" stroke-linecap="round" stroke-linejoin="round"/>
<polyline points="1637.3,504.1 1639.4,504.7 1640.9,505.9 1643.4,506.6" fill="none" stroke="#000" stroke-width="3.0" stroke-linecap="round" stroke-linejoin="round"/>
<polyline points="1695.3,505.1 1696.7,506.6 1698.2,508.2 1699.4,510.2" fill="none" stroke="#000" stroke-width="5.0" stroke-linecap="round" stroke-linejoin="round"/>
<polyline points="1660.2,517.3 1661,519.8 1662.2,522.4" fill="none" stroke="#000" stroke-width="4.5" stroke-linecap="round" stroke-linejoin="round"/>
<polyline points="1666.8,514.3 1668.3,516.7 1669.9,518.3" fill="none" stroke="#000" stroke-width="4.0" stroke-linecap="round" stroke-linejoin="round"/>
<polyline points="1651.6,509.2 1653.5,510.3 1656,510.2 1657.7,511.2" fill="none" stroke="#000" stroke-width="2.5" stroke-linecap="round" stroke-linejoin="round"/>
<polyline points="1704.5,506.1 1707,507.4 1709.5,509.2" fill="none" stroke="#000" stroke-width="3.0" stroke-linecap="round" stroke-linejoin="round"/>
<polyline points="1712.6,517.3 1713.6,519.3" fill="none" stroke="#000" stroke-width="3.0" stroke-linecap="round" stroke-linejoin="round"/>
<polyline points="1754.3,474.6 1755.8,477.1" fill="none" stroke="#000" stroke-width="4.0" stroke-linecap="round" stroke-linejoin="round"/>
<polyline points="1722.7,511.2 1725.3,512.7" fill="none" stroke="#000" stroke-width="4.0" stroke-linecap="round" stroke-linejoin="round"/>
<polyline points="1884.1,473.6 1886.2,472.9 1888.4,472.1 1891.2,471.5 1891.5,473.1 1892.4,475.2 1893.2,477.6 1890.7,478.6 1888,479.1 1886.1,479.7" fill="none" stroke="#000" stroke-width="4.5" stroke-linecap="round" stroke-linejoin="round"/>
<polyline points="1927.8,497 1928.4,498.8 1928.4,501.2 1929.4,503.1 1931.4,505.1" fill="none" stroke="#000" stroke-width="3.0" stroke-linecap="round" stroke-linejoin="round"/>
<polyline points="1817,365.1 1819.7,365.7 1822.6,365.6" fill="none" stroke="#000" stroke-width="4.0" stroke-linecap="round" stroke-linejoin="round"/>
<polyline points="1770.2,369.7 1772.4,370.3 1774.1,371.5 1776.8,372.2" fill="none" stroke="#000" stroke-width="3.0" stroke-linecap="round" stroke-linejoin="round"/>
<polyline points="1700,334.1 1701.3,336.1 1702,338.2 1702.5,339.7 1701.8,342.4 1701.5,344.8" fill="none" stroke="#000" stroke-width="2.0" stroke-linecap="round" stroke-linejoin="round"/>
<polyline points="1747.8,309.7 1745.9,310.6 1743.5,310.3 1740.7,311.2 1738.7,313.1 1736.6,315.3 1736.4,317.4 1736.1,320.3 1737.1,322.8 1738.7,325.4" fill="none" stroke="#000" stroke-width="2.3" stroke-linecap="round" stroke-linejoin="round"/>
<polyline points="1744.8,308.6 1747.8,311.2 1748.4,312.9 1749.8,315.3" fill="none" stroke="#000" stroke-width="2.8" stroke-linecap="round" stroke-linejoin="round"/>
<polyline points="1755.4,316.8 1758.3,317.2 1761,317.5 1763.1,319.3 1761.4,321.8 1759,323.4 1757.4,324.5 1754.9,325.9" fill="none" stroke="#000" stroke-width="3.4" stroke-linecap="round" stroke-linejoin="round"/>
<polyline points="1757,318.3 1759.1,319.3 1761,319.8" fill="none" stroke="#000" stroke-width="3.5" stroke-linecap="round" stroke-linejoin="round"/>
<polyline points="1771.2,321.6 1773.1,322.5 1775.6,322.4 1777.3,323.2" fill="none" stroke="#000" stroke-width="2.5" stroke-linecap="round" stroke-linejoin="round"/>
<polyline points="1762.6,312.4 1766.1,312.8" fill="none" stroke="#000" stroke-width="2.0" stroke-linecap="round" stroke-linejoin="round"/>
<polyline points="1780.4,331.5 1782.4,329.8 1784.4,328.5 1786.5,328.9 1789.5,329 1791,330.5 1793.1,332.6 1792.5,334.7 1792.1,336.6 1789.5,338.9" fill="none" stroke="#000" stroke-width="3.0" stroke-linecap="round" stroke-linejoin="round"/>
<polyline points="1796.6,334.6 1797.7,337.1" fill="none" stroke="#000" stroke-width="2.0" stroke-linecap="round" stroke-linejoin="round"/>
<polyline points="1868.8,379.2 1870.5,378.5 1872.9,378.7" fill="none" stroke="#000" stroke-width="2.8" stroke-linecap="round" stroke-linejoin="round"/>
<polyline points="1875.4,377.1 1878.5,376.1 1881,375.6 1882.8,374.4 1885.1,373.1" fill="none" stroke="#000" stroke-width="2.6" stroke-linecap="round" stroke-linejoin="round"/>
<polyline points="1877.5,385.6 1879.8,385.2 1881.5,385.4" fill="none" stroke="#000" stroke-width="2.6" stroke-linecap="round" stroke-linejoin="round"/>
<polyline points="1898.8,378.5 1901.4,380.2 1903.9,383.2" fill="none" stroke="#000" stroke-width="3.2" stroke-linecap="round" stroke-linejoin="round"/>
<polyline points="1901.9,389.3 1904.4,391.4 1907,393.7" fill="none" stroke="#000" stroke-width="2.6" stroke-linecap="round" stroke-linejoin="round"/>
<polyline points="1925.3,444.1 1925.3,446.3 1924.8,449.2 1923.1,451.3 1921.6,453.5 1920.7,455.3 1919.8,456.7 1918.5,459 1917.2,460.9" fill="none" stroke="#000" stroke-width="2.6" stroke-linecap="round" stroke-linejoin="round"/>
<polyline points="1598.7,404.8 1600.9,404.1 1602.7,402.7 1604.7,403.1 1607.3,402.4" fill="none" stroke="#000" stroke-width="2.4" stroke-linecap="round" stroke-linejoin="round"/>
<polyline points="1594.4,407.3 1595.1,407.5" fill="none" stroke="#000" stroke-width="3.0" stroke-linecap="round" stroke-linejoin="round"/>
<polyline points="1640.9,408.8 1641.9,410.9" fill="none" stroke="#000" stroke-width="2.4" stroke-linecap="round" stroke-linejoin="round"/>
<polyline points="1648.5,419.5 1651,420.1" fill="none" stroke="#000" stroke-width="2.6" stroke-linecap="round" stroke-linejoin="round"/>
<polyline points="1645.5,429.2 1648.5,428.1 1650.5,430.7 1647.5,431.7" fill="none" stroke="#000" stroke-width="3.0" stroke-linecap="round" stroke-linejoin="round"/>
<ellipse cx="1668.4" cy="363.7" rx="3.3" ry="1.6" fill="#000" transform="rotate(0 1668.4 363.7)"/>
<ellipse cx="1685.7" cy="358.6" rx="3.5" ry="1.4000000000000001" fill="#000" transform="rotate(-15 1685.7 358.6)"/>
<ellipse cx="1634.5" cy="389.6" rx="1.6" ry="1.2" fill="#000" transform="rotate(0 1634.5 389.6)"/>
<ellipse cx="1666.9" cy="443.4" rx="1.8" ry="1.9000000000000001" fill="#000" transform="rotate(0 1666.9 443.4)"/>
<ellipse cx="1662.6" cy="453.9" rx="1.4000000000000001" ry="2.1" fill="#000" transform="rotate(0 1662.6 453.9)"/>
<ellipse cx="1645.4" cy="459.2" rx="1.3" ry="1.3" fill="#000" transform="rotate(0 1645.4 459.2)"/>
<ellipse cx="1839.3" cy="380.5" rx="1.7" ry="1.5" fill="#000" transform="rotate(0 1839.3 380.5)"/>
<ellipse cx="1917.4" cy="386.5" rx="2.1" ry="2.3" fill="#000" transform="rotate(0 1917.4 386.5)"/>
<ellipse cx="1917.4" cy="394.1" rx="2.6999999999999997" ry="2.3" fill="#000" transform="rotate(0 1917.4 394.1)"/>
<ellipse cx="1912.2" cy="398.5" rx="1.6" ry="2.0" fill="#000" transform="rotate(0 1912.2 398.5)"/>
<ellipse cx="1924.1" cy="409.3" rx="1.8" ry="1.8" fill="#000" transform="rotate(0 1924.1 409.3)"/>
<ellipse cx="1923.1" cy="416.1" rx="2.5" ry="4.3" fill="#000" transform="rotate(-15 1923.1 416.1)"/>
<ellipse cx="1927.6" cy="426.3" rx="3.0999999999999996" ry="4.5" fill="#000" transform="rotate(-25 1927.6 426.3)"/>
<ellipse cx="1928" cy="436.2" rx="2.3" ry="3.9" fill="#000" transform="rotate(0 1928 436.2)"/>
<ellipse cx="1925" cy="444.7" rx="2.3" ry="3.0999999999999996" fill="#000" transform="rotate(0 1925 444.7)"/>
<ellipse cx="1946.2" cy="445.8" rx="2.6999999999999997" ry="3.3" fill="#000" transform="rotate(-20 1946.2 445.8)"/>
<ellipse cx="1918.9" cy="459.5" rx="2.3" ry="3.0999999999999996" fill="#000" transform="rotate(25 1918.9 459.5)"/>
<ellipse cx="1931.7" cy="470.9" rx="3.6999999999999997" ry="1.8" fill="#000" transform="rotate(-30 1931.7 470.9)"/>
<ellipse cx="1812.8" cy="454.6" rx="2.5" ry="1.5" fill="#000" transform="rotate(40 1812.8 454.6)"/>
<ellipse cx="1825.8" cy="458.5" rx="4.5" ry="1.6" fill="#000" transform="rotate(35 1825.8 458.5)"/>
<ellipse cx="1834.5" cy="458.9" rx="2.1" ry="2.3" fill="#000" transform="rotate(0 1834.5 458.9)"/>
<ellipse cx="1843.8" cy="461.4" rx="1.6" ry="1.1" fill="#000" transform="rotate(0 1843.8 461.4)"/>
<ellipse cx="1854" cy="463.1" rx="3.0999999999999996" ry="1.4000000000000001" fill="#000" transform="rotate(0 1854 463.1)"/>
<ellipse cx="1861.9" cy="463.7" rx="1.6" ry="1.1" fill="#000" transform="rotate(0 1861.9 463.7)"/>
<ellipse cx="1881.5" cy="463.1" rx="1.6" ry="1.6" fill="#000" transform="rotate(0 1881.5 463.1)"/>
<ellipse cx="1872.6" cy="474.8" rx="2.5" ry="1.3" fill="#000" transform="rotate(0 1872.6 474.8)"/>
<ellipse cx="1900.7" cy="469.2" rx="1.2" ry="1.2" fill="#000" transform="rotate(0 1900.7 469.2)"/>
<ellipse cx="1889.8" cy="477" rx="1.4000000000000001" ry="1.0" fill="#000" transform="rotate(0 1889.8 477)"/>
<ellipse cx="1792.9" cy="387.2" rx="1.3" ry="1.2" fill="#000" transform="rotate(0 1792.9 387.2)"/>
<ellipse cx="1765" cy="380.6" rx="1.4000000000000001" ry="1.0" fill="#000" transform="rotate(0 1765 380.6)"/>
<ellipse cx="1776.6" cy="353.8" rx="3.3" ry="1.2" fill="#000" transform="rotate(-8 1776.6 353.8)"/>
<ellipse cx="1829.4" cy="379.5" rx="2.1" ry="1.2" fill="#000" transform="rotate(0 1829.4 379.5)"/>
<ellipse cx="1648.6" cy="429.6" rx="2.1" ry="2.1" fill="#000" transform="rotate(0 1648.6 429.6)"/>
<ellipse cx="1649.8" cy="433.5" rx="1.3" ry="1.3" fill="#000" transform="rotate(0 1649.8 433.5)"/>
<ellipse cx="1646" cy="440.1" rx="1.3" ry="1.3" fill="#000" transform="rotate(0 1646 440.1)"/>
<circle cx="1681.8" cy="411" r="1.1" fill="#4b5f80" opacity="0.6"/>
<circle cx="1687" cy="411" r="1.1" fill="#4b5f80" opacity="0.6"/>
<circle cx="1702.3" cy="410.3" r="1.1" fill="#4b5f80" opacity="0.6"/>
<circle cx="1684.4" cy="430.9" r="1.1" fill="#4b5f80" opacity="0.6"/>
<circle cx="1687" cy="441.4" r="1.1" fill="#4b5f80" opacity="0.6"/>
<circle cx="1660.1" cy="408.3" r="1.1" fill="#4b5f80" opacity="0.6"/>
<circle cx="1655" cy="400.3" r="1.1" fill="#4b5f80" opacity="0.6"/>
<circle cx="1651.1" cy="409.7" r="1.1" fill="#4b5f80" opacity="0.6"/>
<circle cx="1652.4" cy="416.3" r="1.1" fill="#4b5f80" opacity="0.6"/>
<circle cx="1656.2" cy="422.9" r="1.1" fill="#4b5f80" opacity="0.6"/>
<circle cx="1653.7" cy="426.9" r="1.1" fill="#4b5f80" opacity="0.6"/>
<circle cx="1647.3" cy="449.3" r="1.1" fill="#4b5f80" opacity="0.6"/>
<circle cx="1680.6" cy="429.6" r="1.1" fill="#4b5f80" opacity="0.6"/>
<circle cx="1710" cy="374.8" r="1.1" fill="#4b5f80" opacity="0.6"/>
<circle cx="1748.4" cy="376.2" r="1.1" fill="#4b5f80" opacity="0.6"/>
<circle cx="1735.6" cy="389.6" r="1.1" fill="#4b5f80" opacity="0.6"/>
<circle cx="1914.8" cy="412.3" r="1.1" fill="#4b5f80" opacity="0.6"/>
<circle cx="1894.3" cy="412.3" r="1.1" fill="#4b5f80" opacity="0.6"/>
<circle cx="1597.4" cy="368.1" r="1.1" fill="#4b5f80" opacity="0.6"/>
<circle cx="1592.2" cy="382.9" r="1.1" fill="#4b5f80" opacity="0.6"/>
<circle cx="1589.7" cy="396.3" r="1.1" fill="#4b5f80" opacity="0.6"/>
<circle cx="1753.5" cy="325.7" r="1.1" fill="#4b5f80" opacity="0.6"/>
<circle cx="1749.7" cy="342.2" r="1.1" fill="#4b5f80" opacity="0.6"/>
<circle cx="1766.3" cy="342.2" r="1.1" fill="#4b5f80" opacity="0.6"/>
<circle cx="1722.8" cy="327.1" r="1.1" fill="#4b5f80" opacity="0.6"/>
<circle cx="1642.2" cy="327.1" r="1.1" fill="#4b5f80" opacity="0.6"/>
<circle cx="1653.7" cy="328.4" r="1.1" fill="#4b5f80" opacity="0.6"/>
<circle cx="1674.2" cy="314.6" r="1.1" fill="#4b5f80" opacity="0.6"/>
<circle cx="1823.3" cy="385.5" r="4.6" fill="#ff0000" stroke="#000" stroke-width="1.1"/>
</g>
<rect x="1568.3" y="307" width="398.2" height="218.8" fill="none" stroke="#000" stroke-width="1.35"/>
<path d="M1620.4 525.8v9.6M1620.4 307v-9.6M1684.4 525.8v9.6M1684.4 307v-9.6M1748.4 525.8v9.6M1748.4 307v-9.6M1812.4 525.8v9.6M1812.4 307v-9.6M1876.4 525.8v9.6M1876.4 307v-9.6M1940.4 525.8v9.6M1940.4 307v-9.6M1568.3 487.2h-9.6M1966.5 487.2h9.6M1568.3 421.6h-9.6M1966.5 421.6h9.6M1568.3 354.5h-9.6M1966.5 354.5h9.6" stroke="#000" stroke-width="3.1" fill="none"/>
<path d="M1569.2 525.8v3.8M1569.2 307v-3.8M1582 525.8v3.8M1582 307v-3.8M1594.8 525.8v3.8M1594.8 307v-3.8M1607.6 525.8v3.8M1607.6 307v-3.8M1633.2 525.8v3.8M1633.2 307v-3.8M1646 525.8v3.8M1646 307v-3.8M1658.8 525.8v3.8M1658.8 307v-3.8M1671.6 525.8v3.8M1671.6 307v-3.8M1697.2 525.8v3.8M1697.2 307v-3.8M1710 525.8v3.8M1710 307v-3.8M1722.8 525.8v3.8M1722.8 307v-3.8M1735.6 525.8v3.8M1735.6 307v-3.8M1761.2 525.8v3.8M1761.2 307v-3.8M1774 525.8v3.8M1774 307v-3.8M1786.8 525.8v3.8M1786.8 307v-3.8M1799.6 525.8v3.8M1799.6 307v-3.8M1825.2 525.8v3.8M1825.2 307v-3.8M1838 525.8v3.8M1838 307v-3.8M1850.8 525.8v3.8M1850.8 307v-3.8M1863.6 525.8v3.8M1863.6 307v-3.8M1889.2 525.8v3.8M1889.2 307v-3.8M1902 525.8v3.8M1902 307v-3.8M1914.8 525.8v3.8M1914.8 307v-3.8M1927.6 525.8v3.8M1927.6 307v-3.8M1953.2 525.8v3.8M1953.2 307v-3.8M1966 525.8v3.8M1966 307v-3.8M1568.3 526h-3.8M1966.5 526h3.8M1568.3 513.1h-3.8M1966.5 513.1h3.8M1568.3 500.2h-3.8M1966.5 500.2h3.8M1568.3 474.2h-3.8M1966.5 474.2h3.8M1568.3 461.1h-3.8M1966.5 461.1h3.8M1568.3 448h-3.8M1966.5 448h3.8M1568.3 434.8h-3.8M1966.5 434.8h3.8M1568.3 408.3h-3.8M1966.5 408.3h3.8M1568.3 395h-3.8M1966.5 395h3.8M1568.3 381.6h-3.8M1966.5 381.6h3.8M1568.3 368.1h-3.8M1966.5 368.1h3.8M1568.3 340.8h-3.8M1966.5 340.8h3.8M1568.3 327.1h-3.8M1966.5 327.1h3.8M1568.3 313.2h-3.8M1966.5 313.2h3.8" stroke="#000" stroke-width="1.6" fill="none"/>
<text x="1496" y="497.6" font-size="23.2" text-anchor="start" textLength="58.5" lengthAdjust="spacing" fill="#000" >10°N</text>
<text x="1496" y="432" font-size="23.2" text-anchor="start" textLength="58.5" lengthAdjust="spacing" fill="#000" >15°N</text>
<text x="1496" y="364.9" font-size="23.2" text-anchor="start" textLength="58.5" lengthAdjust="spacing" fill="#000" >20°N</text>
<text transform="translate(1617.7,570.2) rotate(-45)" x="0" y="8.5" font-size="23.2" text-anchor="middle" textLength="64.4" lengthAdjust="spacing">85°W</text>
<text transform="translate(1681.7,570.2) rotate(-45)" x="0" y="8.5" font-size="23.2" text-anchor="middle" textLength="64.4" lengthAdjust="spacing">80°W</text>
<text transform="translate(1745.7,570.2) rotate(-45)" x="0" y="8.5" font-size="23.2" text-anchor="middle" textLength="64.4" lengthAdjust="spacing">75°W</text>
<text transform="translate(1809.7,570.2) rotate(-45)" x="0" y="8.5" font-size="23.2" text-anchor="middle" textLength="64.4" lengthAdjust="spacing">70°W</text>
<text transform="translate(1873.7,570.2) rotate(-45)" x="0" y="8.5" font-size="23.2" text-anchor="middle" textLength="64.4" lengthAdjust="spacing">65°W</text>
<text transform="translate(1937.7,570.2) rotate(-45)" x="0" y="8.5" font-size="23.2" text-anchor="middle" textLength="64.4" lengthAdjust="spacing">60°W</text></g>
<g id="legend"><rect x="1685" y="646.6" width="165.2" height="144.4" rx="4.5" ry="4.5" fill="#fff" fill-opacity="0.8" stroke="#cccccc" stroke-width="1.4"/><line x1="1693" y1="666.4" x2="1741" y2="666.4" stroke="#0000ff" stroke-width="3.1"/><circle cx="1716.7" cy="666.4" r="5.9" fill="#0000ff"/><text x="1757" y="674.9" font-size="23.2" text-anchor="start" textLength="68.4" lengthAdjust="spacing" fill="#000" >sg665</text><line x1="1693" y1="701" x2="1741" y2="701" stroke="#ff0000" stroke-width="3.1"/><circle cx="1716.7" cy="701" r="5.9" fill="#ff0000"/><text x="1757" y="709.5" font-size="23.2" text-anchor="start" textLength="71.7" lengthAdjust="spacing" fill="#000" >RTOFS</text><line x1="1693" y1="735.3" x2="1741" y2="735.3" stroke="#008000" stroke-width="3.1"/><circle cx="1716.7" cy="735.3" r="5.9" fill="#008000"/><text x="1757" y="743.8" font-size="23.2" text-anchor="start" textLength="57.3" lengthAdjust="spacing" fill="#000" >ESPC</text><line x1="1693" y1="769.4" x2="1741" y2="769.4" stroke="#ff00ff" stroke-width="3.1"/><circle cx="1716.7" cy="769.4" r="5.9" fill="#ff00ff"/><text x="1757" y="777.9" font-size="23.2" text-anchor="start" textLength="82.4" lengthAdjust="spacing" fill="#000" >CMEMS</text></g>
<g id="labels"><text transform="translate(29.1,418.4) rotate(-90)" x="0" y="0" font-size="23.2" font-weight="bold" text-anchor="middle" textLength="127.5" lengthAdjust="spacing">Depth (m)</text><text x="187.6" y="872.2" font-size="23.2" font-weight="bold" text-anchor="start" textLength="183.9" lengthAdjust="spacing" fill="#000" >Temperature (</text><text x="371" y="863.3" font-size="16.2" font-style="italic" text-anchor="start" fill="#000" >o</text><text x="383.6" y="872.2" font-size="23.2" font-style="italic" text-anchor="start" fill="#000" >C</text><text x="397.2" y="872.2" font-size="23.2" font-weight="bold" text-anchor="start" fill="#000" >)</text><text x="740.6" y="869.8" font-size="23.2" font-weight="bold" text-anchor="start" textLength="94.3" lengthAdjust="spacing" fill="#000" >Salinity</text><text x="1170.4" y="896.2" font-size="23.2" font-weight="bold" text-anchor="start" textLength="214.2" lengthAdjust="spacing" fill="#000" >Density (kg m-3)</text><text x="233.8" y="918.2" font-size="16.9" font-style="italic" textLength="1108" lengthAdjust="spacing" xml:space="preserve">Ocean Heat Content (kJ/cm^2) - Glider: 124.1590,  RTOFS: 107.1226,  ESPC: 100.4896,  CMEMS: 128.3396,  NESDIS: 128.7459,</text></g>
</svg></body></html>
